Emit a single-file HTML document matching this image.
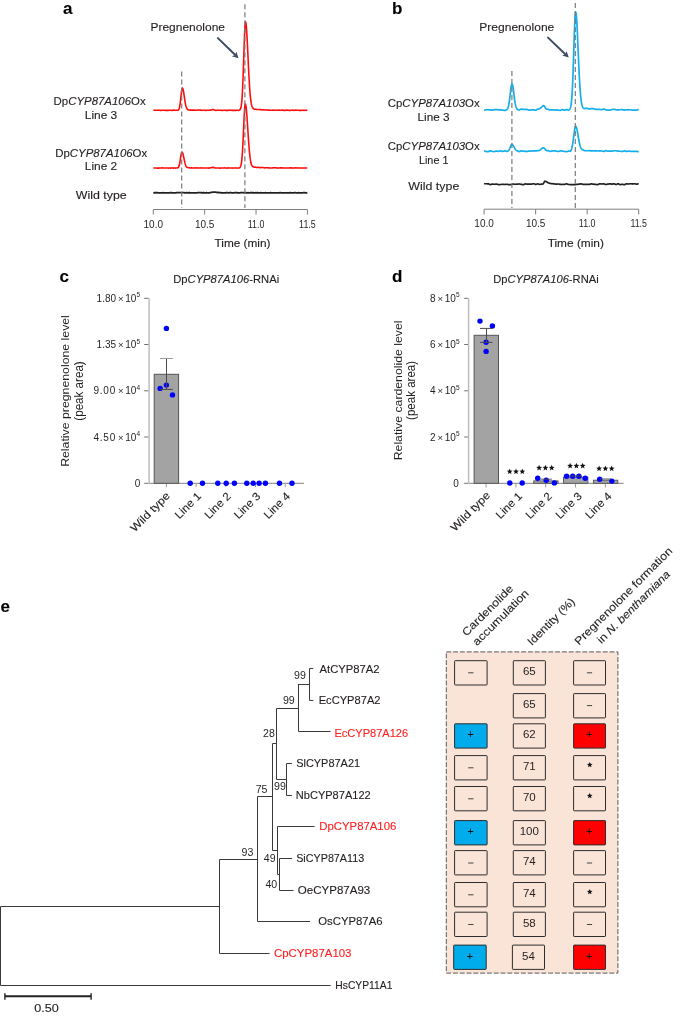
<!DOCTYPE html>
<html><head><meta charset="utf-8"><style>
html,body{margin:0;padding:0;background:#fff;}
svg{display:block;will-change:transform;}
text{font-family:"Liberation Sans", sans-serif;stroke:#231f20;stroke-width:0.12px;}
text.thin{stroke-width:0;}
</style></head><body>
<svg width="685" height="1016" viewBox="0 0 685 1016" font-family='"Liberation Sans", sans-serif' fill="#231f20">
<rect width="685" height="1016" fill="#fff"/>
<text x="63" y="14.2" font-size="17" font-weight="bold" fill="#000" style="stroke:#000">a</text>
<text x="150.5" y="30.8" font-size="11" textLength="74.5" lengthAdjust="spacingAndGlyphs">Pregnenolone</text>
<line x1="217.9" y1="38.1" x2="234.78" y2="54.57" stroke="#3d4b63" stroke-width="2" stroke-linecap="round"/>
<path d="M238.50,58.20 L231.83,56.16 L235.14,54.92 L236.30,51.58 Z" fill="#3d4b63"/>
<path d="M153.30,110.31 L153.56,110.31 L153.81,110.30 L154.07,110.29 L154.33,110.28 L154.58,110.28 L154.84,110.26 L155.10,110.23 L155.35,110.20 L155.61,110.18 L155.87,110.18 L156.12,110.20 L156.38,110.24 L156.64,110.28 L156.89,110.31 L157.15,110.31 L157.41,110.31 L157.66,110.30 L157.92,110.30 L158.18,110.30 L158.43,110.30 L158.69,110.29 L158.95,110.28 L159.21,110.28 L159.46,110.27 L159.72,110.29 L159.98,110.32 L160.23,110.36 L160.49,110.39 L160.75,110.39 L161.00,110.38 L161.26,110.35 L161.52,110.32 L161.77,110.30 L162.03,110.30 L162.29,110.29 L162.54,110.28 L162.80,110.27 L163.06,110.26 L163.31,110.26 L163.57,110.25 L163.83,110.23 L164.08,110.22 L164.34,110.21 L164.60,110.23 L164.85,110.28 L165.11,110.34 L165.37,110.40 L165.62,110.42 L165.88,110.41 L166.14,110.40 L166.39,110.38 L166.65,110.36 L166.91,110.36 L167.16,110.37 L167.42,110.39 L167.68,110.41 L167.93,110.42 L168.19,110.42 L168.45,110.38 L168.70,110.31 L168.96,110.25 L169.22,110.21 L169.48,110.21 L169.73,110.22 L169.99,110.23 L170.25,110.24 L170.50,110.24 L170.76,110.26 L171.02,110.30 L171.27,110.36 L171.53,110.42 L171.79,110.44 L172.04,110.41 L172.30,110.33 L172.56,110.24 L172.81,110.18 L173.07,110.16 L173.33,110.16 L173.58,110.16 L173.84,110.16 L174.10,110.16 L174.35,110.16 L174.61,110.18 L174.87,110.21 L175.12,110.23 L175.38,110.25 L175.64,110.25 L175.89,110.26 L176.15,110.26 L176.41,110.26 L176.66,110.26 L176.92,110.26 L177.18,110.28 L177.43,110.29 L177.69,110.27 L177.95,110.20 L178.20,110.07 L178.46,109.86 L178.72,109.53 L178.97,109.05 L179.23,108.36 L179.49,107.39 L179.75,106.11 L180.00,104.52 L180.26,102.63 L180.52,100.49 L180.77,98.18 L181.03,95.81 L181.29,93.49 L181.54,91.40 L181.80,89.69 L182.06,88.53 L182.31,88.02 L182.57,88.12 L182.83,88.61 L183.08,89.45 L183.34,90.60 L183.60,92.01 L183.85,93.60 L184.11,95.32 L184.37,97.10 L184.62,98.87 L184.88,100.58 L185.14,102.18 L185.39,103.62 L185.65,104.88 L185.91,105.95 L186.16,106.84 L186.42,107.59 L186.68,108.21 L186.93,108.70 L187.19,109.09 L187.45,109.38 L187.70,109.60 L187.96,109.76 L188.22,109.84 L188.47,109.89 L188.73,109.91 L188.99,109.93 L189.24,109.96 L189.50,110.00 L189.76,110.04 L190.02,110.08 L190.27,110.10 L190.53,110.10 L190.79,110.09 L191.04,110.08 L191.30,110.08 L191.56,110.08 L191.81,110.09 L192.07,110.11 L192.33,110.12 L192.58,110.13 L192.84,110.14 L193.10,110.13 L193.35,110.12 L193.61,110.11 L193.87,110.11 L194.12,110.11 L194.38,110.13 L194.64,110.15 L194.89,110.17 L195.15,110.18 L195.41,110.19 L195.66,110.21 L195.92,110.23 L196.18,110.24 L196.43,110.25 L196.69,110.23 L196.95,110.18 L197.20,110.11 L197.46,110.06 L197.72,110.05 L197.97,110.05 L198.23,110.06 L198.49,110.06 L198.74,110.06 L199.00,110.06 L199.26,110.07 L199.51,110.09 L199.77,110.11 L200.03,110.12 L200.29,110.12 L200.54,110.13 L200.80,110.15 L201.06,110.16 L201.31,110.17 L201.57,110.18 L201.83,110.21 L202.08,110.25 L202.34,110.28 L202.60,110.29 L202.85,110.30 L203.11,110.31 L203.37,110.32 L203.62,110.32 L203.88,110.33 L204.14,110.32 L204.39,110.32 L204.65,110.32 L204.91,110.31 L205.16,110.32 L205.42,110.33 L205.68,110.35 L205.93,110.37 L206.19,110.38 L206.45,110.38 L206.70,110.33 L206.96,110.27 L207.22,110.21 L207.47,110.18 L207.73,110.19 L207.99,110.22 L208.24,110.25 L208.50,110.28 L208.76,110.29 L209.01,110.28 L209.27,110.24 L209.53,110.19 L209.78,110.15 L210.04,110.12 L210.30,110.12 L210.56,110.12 L210.81,110.12 L211.07,110.09 L211.33,110.03 L211.58,109.92 L211.84,109.80 L212.10,109.68 L212.35,109.59 L212.61,109.55 L212.87,109.55 L213.12,109.57 L213.38,109.62 L213.64,109.68 L213.89,109.77 L214.15,109.91 L214.41,110.06 L214.66,110.19 L214.92,110.28 L215.18,110.32 L215.43,110.34 L215.69,110.35 L215.95,110.35 L216.20,110.35 L216.46,110.33 L216.72,110.27 L216.97,110.21 L217.23,110.17 L217.49,110.16 L217.74,110.19 L218.00,110.23 L218.26,110.27 L218.51,110.29 L218.77,110.29 L219.03,110.26 L219.28,110.21 L219.54,110.17 L219.80,110.14 L220.05,110.16 L220.31,110.20 L220.57,110.25 L220.83,110.30 L221.08,110.32 L221.34,110.33 L221.60,110.36 L221.85,110.39 L222.11,110.41 L222.37,110.42 L222.62,110.39 L222.88,110.35 L223.14,110.30 L223.39,110.26 L223.65,110.25 L223.91,110.24 L224.16,110.23 L224.42,110.22 L224.68,110.21 L224.93,110.22 L225.19,110.25 L225.45,110.30 L225.70,110.34 L225.96,110.36 L226.22,110.37 L226.47,110.38 L226.73,110.40 L226.99,110.41 L227.24,110.42 L227.50,110.41 L227.76,110.39 L228.01,110.37 L228.27,110.35 L228.53,110.34 L228.78,110.32 L229.04,110.26 L229.30,110.21 L229.55,110.16 L229.81,110.16 L230.07,110.17 L230.32,110.19 L230.58,110.21 L230.84,110.22 L231.10,110.23 L231.35,110.27 L231.61,110.33 L231.87,110.38 L232.12,110.41 L232.38,110.41 L232.64,110.40 L232.89,110.39 L233.15,110.38 L233.41,110.37 L233.66,110.38 L233.92,110.39 L234.18,110.40 L234.43,110.41 L234.69,110.42 L234.95,110.42 L235.20,110.42 L235.46,110.43 L235.72,110.43 L235.97,110.43 L236.23,110.38 L236.49,110.32 L236.74,110.25 L237.00,110.21 L237.26,110.22 L237.51,110.25 L237.77,110.31 L238.03,110.36 L238.28,110.38 L238.54,110.36 L238.80,110.31 L239.05,110.23 L239.31,110.14 L239.57,110.02 L239.82,109.86 L240.08,109.61 L240.34,109.23 L240.59,108.67 L240.85,107.85 L241.11,106.72 L241.37,105.17 L241.62,103.10 L241.88,100.40 L242.14,96.95 L242.39,92.68 L242.65,87.54 L242.91,81.56 L243.16,74.83 L243.42,67.51 L243.68,59.81 L243.93,51.99 L244.19,44.39 L244.45,37.36 L244.70,31.26 L244.96,26.47 L245.22,23.28 L245.47,21.91 L245.73,22.16 L245.99,23.40 L246.24,25.56 L246.50,28.56 L246.76,32.28 L247.01,36.61 L247.27,41.42 L247.53,46.58 L247.78,51.97 L248.04,57.46 L248.30,62.96 L248.55,68.33 L248.81,73.48 L249.07,78.32 L249.32,82.80 L249.58,86.87 L249.84,90.51 L250.09,93.73 L250.35,96.54 L250.61,98.95 L250.86,100.98 L251.12,102.64 L251.38,103.99 L251.64,105.09 L251.89,106.00 L252.15,106.74 L252.41,107.33 L252.66,107.80 L252.92,108.16 L253.18,108.43 L253.43,108.66 L253.69,108.85 L253.95,109.01 L254.20,109.13 L254.46,109.20 L254.72,109.22 L254.97,109.21 L255.23,109.19 L255.49,109.19 L255.74,109.22 L256.00,109.29 L256.26,109.37 L256.51,109.45 L256.77,109.50 L257.03,109.52 L257.28,109.52 L257.54,109.53 L257.80,109.53 L258.05,109.55 L258.31,109.55 L258.57,109.53 L258.82,109.51 L259.08,109.50 L259.34,109.50 L259.59,109.53 L259.85,109.57 L260.11,109.60 L260.36,109.64 L260.62,109.66 L260.88,109.70 L261.13,109.77 L261.39,109.83 L261.65,109.88 L261.91,109.88 L262.16,109.84 L262.42,109.77 L262.68,109.71 L262.93,109.68 L263.19,109.71 L263.45,109.78 L263.70,109.87 L263.96,109.94 L264.22,109.98 L264.47,109.99 L264.73,109.99 L264.99,110.00 L265.24,110.01 L265.50,110.02 L265.76,110.00 L266.01,109.97 L266.27,109.93 L266.53,109.91 L266.78,109.91 L267.04,109.94 L267.30,109.99 L267.55,110.04 L267.81,110.07 L268.07,110.08 L268.32,110.09 L268.58,110.10 L268.84,110.11 L269.09,110.12 L269.35,110.13 L269.61,110.15 L269.86,110.18 L270.12,110.20 L270.38,110.22 L270.63,110.22 L270.89,110.23 L271.15,110.23 L271.40,110.24 L271.66,110.24 L271.92,110.22 L272.18,110.19 L272.43,110.15 L272.69,110.12 L272.95,110.12 L273.20,110.14 L273.46,110.18 L273.72,110.21 L273.97,110.23 L274.23,110.23 L274.49,110.21 L274.74,110.19 L275.00,110.16 L275.26,110.15 L275.51,110.15 L275.77,110.17 L276.03,110.20 L276.28,110.22 L276.54,110.23 L276.80,110.23 L277.05,110.23 L277.31,110.22 L277.57,110.22 L277.82,110.22 L278.08,110.20 L278.34,110.16 L278.59,110.12 L278.85,110.08 L279.11,110.08 L279.36,110.11 L279.62,110.16 L279.88,110.20 L280.13,110.23 L280.39,110.23 L280.65,110.23 L280.90,110.22 L281.16,110.22 L281.42,110.21 L281.67,110.21 L281.93,110.19 L282.19,110.16 L282.45,110.14 L282.70,110.13 L282.96,110.16 L283.22,110.21 L283.47,110.28 L283.73,110.33 L283.99,110.35 L284.24,110.35 L284.50,110.35 L284.76,110.36 L285.01,110.36 L285.27,110.36 L285.53,110.32 L285.78,110.25 L286.04,110.19 L286.30,110.14 L286.55,110.14 L286.81,110.15 L287.07,110.16 L287.32,110.17 L287.58,110.17 L287.84,110.19 L288.09,110.23 L288.35,110.28 L288.61,110.33 L288.86,110.35 L289.12,110.35 L289.38,110.35 L289.63,110.36 L289.89,110.37 L290.15,110.37 L290.40,110.34 L290.66,110.30 L290.92,110.25 L291.17,110.21 L291.43,110.21 L291.69,110.19 L291.94,110.18 L292.20,110.16 L292.46,110.15 L292.72,110.16 L292.97,110.21 L293.23,110.28 L293.49,110.34 L293.74,110.37 L294.00,110.36 L294.26,110.30 L294.51,110.23 L294.77,110.18 L295.03,110.15 L295.28,110.15 L295.54,110.16 L295.80,110.17 L296.05,110.17 L296.31,110.17 L296.57,110.19 L296.82,110.21 L297.08,110.24 L297.34,110.25 L297.59,110.26 L297.85,110.27 L298.11,110.29 L298.36,110.30 L298.62,110.31 L298.88,110.32 L299.13,110.34 L299.39,110.37 L299.65,110.40 L299.90,110.41 L300.16,110.41 L300.42,110.42 L300.67,110.42 L300.93,110.43 L301.19,110.43 L301.44,110.40 L301.70,110.33 L301.96,110.24 L302.21,110.18 L302.47,110.16 L302.73,110.19 L302.99,110.25 L303.24,110.32 L303.50,110.36 L303.76,110.37 L304.01,110.34 L304.27,110.30 L304.53,110.26 L304.78,110.24 L305.04,110.24 L305.30,110.27 L305.55,110.31 L305.81,110.35 L306.07,110.37 L306.32,110.36 L306.58,110.31 L306.84,110.26 L307.09,110.22 L307.35,110.20" fill="none" stroke="#ff0d0d" stroke-width="1.6" stroke-linejoin="round"/>
<path d="M153.30,168.01 L153.56,168.00 L153.81,167.99 L154.07,167.97 L154.33,167.96 L154.58,167.95 L154.84,167.95 L155.10,167.95 L155.35,167.95 L155.61,167.95 L155.87,167.95 L156.12,167.98 L156.38,168.03 L156.64,168.07 L156.89,168.10 L157.15,168.11 L157.41,168.12 L157.66,168.13 L157.92,168.14 L158.18,168.15 L158.43,168.14 L158.69,168.11 L158.95,168.08 L159.21,168.05 L159.46,168.04 L159.72,168.04 L159.98,168.05 L160.23,168.06 L160.49,168.07 L160.75,168.07 L161.00,168.04 L161.26,168.00 L161.52,167.95 L161.77,167.91 L162.03,167.91 L162.29,167.91 L162.54,167.92 L162.80,167.94 L163.06,167.94 L163.31,167.94 L163.57,167.95 L163.83,167.96 L164.08,167.97 L164.34,167.97 L164.60,167.97 L164.85,167.97 L165.11,167.98 L165.37,167.98 L165.62,167.98 L165.88,167.98 L166.14,167.97 L166.39,167.96 L166.65,167.95 L166.91,167.95 L167.16,167.98 L167.42,168.02 L167.68,168.07 L167.93,168.10 L168.19,168.10 L168.45,168.09 L168.70,168.06 L168.96,168.04 L169.22,168.02 L169.48,168.02 L169.73,168.04 L169.99,168.06 L170.25,168.09 L170.50,168.10 L170.76,168.08 L171.02,168.03 L171.27,167.96 L171.53,167.90 L171.79,167.88 L172.04,167.91 L172.30,167.97 L172.56,168.05 L172.81,168.11 L173.07,168.13 L173.33,168.10 L173.58,168.03 L173.84,167.96 L174.10,167.91 L174.35,167.91 L174.61,167.95 L174.87,168.02 L175.12,168.08 L175.38,168.12 L175.64,168.12 L175.89,168.08 L176.15,168.02 L176.41,167.96 L176.66,167.93 L176.92,167.92 L177.18,167.91 L177.43,167.89 L177.69,167.84 L177.95,167.72 L178.20,167.51 L178.46,167.20 L178.72,166.75 L178.97,166.15 L179.23,165.34 L179.49,164.30 L179.75,163.02 L180.00,161.52 L180.26,159.86 L180.52,158.14 L180.77,156.46 L181.03,154.93 L181.29,153.64 L181.54,152.68 L181.80,152.14 L182.06,152.06 L182.31,152.31 L182.57,152.81 L182.83,153.56 L183.08,154.48 L183.34,155.52 L183.60,156.65 L183.85,157.84 L184.11,159.09 L184.37,160.34 L184.62,161.54 L184.88,162.66 L185.14,163.65 L185.39,164.51 L185.65,165.24 L185.91,165.88 L186.16,166.41 L186.42,166.83 L186.68,167.13 L186.93,167.32 L187.19,167.42 L187.45,167.47 L187.70,167.51 L187.96,167.57 L188.22,167.62 L188.47,167.66 L188.73,167.68 L188.99,167.70 L189.24,167.73 L189.50,167.80 L189.76,167.88 L190.02,167.95 L190.27,167.98 L190.53,167.97 L190.79,167.95 L191.04,167.92 L191.30,167.90 L191.56,167.90 L191.81,167.92 L192.07,167.94 L192.33,167.97 L192.58,167.99 L192.84,168.00 L193.10,167.99 L193.35,167.98 L193.61,167.96 L193.87,167.96 L194.12,167.95 L194.38,167.94 L194.64,167.91 L194.89,167.89 L195.15,167.88 L195.41,167.89 L195.66,167.92 L195.92,167.97 L196.18,168.00 L196.43,168.02 L196.69,168.01 L196.95,167.97 L197.20,167.92 L197.46,167.88 L197.72,167.87 L197.97,167.90 L198.23,167.96 L198.49,168.02 L198.74,168.06 L199.00,168.07 L199.26,168.07 L199.51,168.06 L199.77,168.05 L200.03,168.04 L200.29,168.04 L200.54,168.00 L200.80,167.94 L201.06,167.89 L201.31,167.86 L201.57,167.87 L201.83,167.90 L202.08,167.94 L202.34,167.97 L202.60,167.99 L202.85,167.99 L203.11,167.99 L203.37,167.99 L203.62,167.99 L203.88,167.99 L204.14,167.98 L204.39,167.96 L204.65,167.95 L204.91,167.94 L205.16,167.94 L205.42,167.95 L205.68,167.96 L205.93,167.97 L206.19,167.98 L206.45,167.98 L206.70,167.99 L206.96,167.99 L207.22,168.00 L207.47,168.01 L207.73,168.02 L207.99,168.04 L208.24,168.08 L208.50,168.10 L208.76,168.12 L209.01,168.09 L209.27,168.03 L209.53,167.96 L209.78,167.90 L210.04,167.87 L210.30,167.84 L210.56,167.79 L210.81,167.73 L211.07,167.67 L211.33,167.61 L211.58,167.55 L211.84,167.49 L212.10,167.43 L212.35,167.38 L212.61,167.36 L212.87,167.37 L213.12,167.41 L213.38,167.46 L213.64,167.52 L213.89,167.59 L214.15,167.68 L214.41,167.77 L214.66,167.85 L214.92,167.91 L215.18,167.94 L215.43,167.97 L215.69,167.99 L215.95,168.01 L216.20,168.02 L216.46,168.01 L216.72,167.98 L216.97,167.96 L217.23,167.94 L217.49,167.93 L217.74,167.93 L218.00,167.94 L218.26,167.94 L218.51,167.94 L218.77,167.95 L219.03,167.98 L219.28,168.03 L219.54,168.08 L219.80,168.11 L220.05,168.11 L220.31,168.10 L220.57,168.09 L220.83,168.08 L221.08,168.07 L221.34,168.07 L221.60,168.06 L221.85,168.05 L222.11,168.04 L222.37,168.03 L222.62,168.03 L222.88,168.02 L223.14,168.00 L223.39,167.99 L223.65,167.99 L223.91,167.97 L224.16,167.95 L224.42,167.92 L224.68,167.90 L224.93,167.91 L225.19,167.93 L225.45,167.95 L225.70,167.98 L225.96,168.00 L226.22,168.01 L226.47,168.04 L226.73,168.08 L226.99,168.12 L227.24,168.14 L227.50,168.11 L227.76,168.05 L228.01,167.98 L228.27,167.92 L228.53,167.90 L228.78,167.92 L229.04,167.95 L229.30,167.99 L229.55,168.01 L229.81,168.02 L230.07,168.01 L230.32,168.00 L230.58,168.00 L230.84,167.99 L231.10,168.00 L231.35,168.01 L231.61,168.04 L231.87,168.07 L232.12,168.08 L232.38,168.08 L232.64,168.06 L232.89,168.04 L233.15,168.03 L233.41,168.02 L233.66,168.02 L233.92,168.02 L234.18,168.03 L234.43,168.03 L234.69,168.03 L234.95,168.01 L235.20,167.98 L235.46,167.95 L235.72,167.92 L235.97,167.92 L236.23,167.96 L236.49,168.02 L236.74,168.08 L237.00,168.11 L237.26,168.11 L237.51,168.08 L237.77,168.04 L238.03,167.99 L238.28,167.97 L238.54,167.96 L238.80,167.96 L239.05,167.95 L239.31,167.91 L239.57,167.81 L239.82,167.63 L240.08,167.33 L240.34,166.90 L240.59,166.31 L240.85,165.52 L241.11,164.48 L241.37,163.10 L241.62,161.29 L241.88,158.95 L242.14,156.00 L242.39,152.42 L242.65,148.23 L242.91,143.46 L243.16,138.23 L243.42,132.66 L243.68,126.96 L243.93,121.36 L244.19,116.14 L244.45,111.57 L244.70,107.90 L244.96,105.36 L245.22,104.10 L245.47,104.09 L245.73,104.83 L245.99,106.26 L246.24,108.32 L246.50,110.95 L246.76,114.03 L247.01,117.47 L247.27,121.16 L247.53,125.02 L247.78,128.97 L248.04,132.93 L248.30,136.83 L248.55,140.60 L248.81,144.16 L249.07,147.48 L249.32,150.49 L249.58,153.20 L249.84,155.59 L250.09,157.68 L250.35,159.47 L250.61,161.00 L250.86,162.29 L251.12,163.34 L251.38,164.19 L251.64,164.88 L251.89,165.43 L252.15,165.86 L252.41,166.16 L252.66,166.38 L252.92,166.55 L253.18,166.70 L253.43,166.83 L253.69,166.96 L253.95,167.07 L254.20,167.15 L254.46,167.20 L254.72,167.20 L254.97,167.18 L255.23,167.16 L255.49,167.16 L255.74,167.18 L256.00,167.25 L256.26,167.34 L256.51,167.42 L256.77,167.47 L257.03,167.47 L257.28,167.43 L257.54,167.37 L257.80,167.33 L258.05,167.32 L258.31,167.35 L258.57,167.41 L258.82,167.47 L259.08,167.53 L259.34,167.55 L259.59,167.57 L259.85,167.60 L260.11,167.63 L260.36,167.65 L260.62,167.66 L260.88,167.64 L261.13,167.61 L261.39,167.57 L261.65,167.55 L261.91,167.55 L262.16,167.55 L262.42,167.55 L262.68,167.54 L262.93,167.54 L263.19,167.57 L263.45,167.65 L263.70,167.74 L263.96,167.82 L264.22,167.86 L264.47,167.86 L264.73,167.84 L264.99,167.83 L265.24,167.82 L265.50,167.82 L265.76,167.80 L266.01,167.76 L266.27,167.73 L266.53,167.70 L266.78,167.70 L267.04,167.73 L267.30,167.78 L267.55,167.82 L267.81,167.85 L268.07,167.86 L268.32,167.87 L268.58,167.88 L268.84,167.90 L269.09,167.91 L269.35,167.92 L269.61,167.94 L269.86,167.96 L270.12,167.99 L270.38,168.00 L270.63,168.00 L270.89,168.00 L271.15,168.00 L271.40,168.01 L271.66,168.01 L271.92,167.98 L272.18,167.94 L272.43,167.89 L272.69,167.86 L272.95,167.85 L273.20,167.83 L273.46,167.80 L273.72,167.77 L273.97,167.76 L274.23,167.76 L274.49,167.76 L274.74,167.76 L275.00,167.76 L275.26,167.76 L275.51,167.78 L275.77,167.81 L276.03,167.86 L276.28,167.90 L276.54,167.92 L276.80,167.94 L277.05,167.98 L277.31,168.03 L277.57,168.06 L277.82,168.08 L278.08,168.06 L278.34,168.04 L278.59,168.02 L278.85,168.00 L279.11,167.99 L279.36,167.97 L279.62,167.93 L279.88,167.89 L280.13,167.86 L280.39,167.86 L280.65,167.86 L280.90,167.86 L281.16,167.86 L281.42,167.86 L281.67,167.86 L281.93,167.88 L282.19,167.89 L282.45,167.91 L282.70,167.92 L282.96,167.93 L283.22,167.97 L283.47,168.01 L283.73,168.04 L283.99,168.05 L284.24,168.03 L284.50,168.01 L284.76,167.98 L285.01,167.97 L285.27,167.96 L285.53,167.97 L285.78,167.97 L286.04,167.98 L286.30,167.98 L286.55,167.98 L286.81,167.97 L287.07,167.96 L287.32,167.95 L287.58,167.94 L287.84,167.95 L288.09,167.97 L288.35,168.01 L288.61,168.04 L288.86,168.05 L289.12,168.03 L289.38,167.97 L289.63,167.91 L289.89,167.86 L290.15,167.85 L290.40,167.85 L290.66,167.86 L290.92,167.86 L291.17,167.87 L291.43,167.87 L291.69,167.91 L291.94,167.98 L292.20,168.04 L292.46,168.08 L292.72,168.09 L292.97,168.08 L293.23,168.07 L293.49,168.06 L293.74,168.05 L294.00,168.04 L294.26,168.00 L294.51,167.94 L294.77,167.90 L295.03,167.88 L295.28,167.90 L295.54,167.95 L295.80,168.00 L296.05,168.04 L296.31,168.06 L296.57,168.03 L296.82,167.97 L297.08,167.91 L297.34,167.87 L297.59,167.86 L297.85,167.89 L298.11,167.92 L298.36,167.96 L298.62,167.99 L298.88,167.99 L299.13,167.97 L299.39,167.96 L299.65,167.94 L299.90,167.94 L300.16,167.94 L300.42,167.93 L300.67,167.93 L300.93,167.93 L301.19,167.93 L301.44,167.95 L301.70,167.99 L301.96,168.03 L302.21,168.07 L302.47,168.08 L302.73,168.08 L302.99,168.07 L303.24,168.07 L303.50,168.06 L303.76,168.06 L304.01,168.06 L304.27,168.07 L304.53,168.07 L304.78,168.07 L305.04,168.06 L305.30,168.04 L305.55,168.00 L305.81,167.96 L306.07,167.94 L306.32,167.94 L306.58,167.94 L306.84,167.94 L307.09,167.94 L307.35,167.94" fill="none" stroke="#ff0d0d" stroke-width="1.6" stroke-linejoin="round"/>
<path d="M153.30,192.87 L153.56,192.86 L153.81,192.82 L154.07,192.78 L154.33,192.75 L154.58,192.74 L154.84,192.74 L155.10,192.74 L155.35,192.74 L155.61,192.74 L155.87,192.74 L156.12,192.73 L156.38,192.72 L156.64,192.71 L156.89,192.70 L157.15,192.70 L157.41,192.75 L157.66,192.81 L157.92,192.86 L158.18,192.89 L158.43,192.89 L158.69,192.89 L158.95,192.89 L159.21,192.88 L159.46,192.88 L159.72,192.88 L159.98,192.89 L160.23,192.90 L160.49,192.90 L160.75,192.91 L161.00,192.90 L161.26,192.90 L161.52,192.89 L161.77,192.88 L162.03,192.88 L162.29,192.85 L162.54,192.81 L162.80,192.76 L163.06,192.73 L163.31,192.74 L163.57,192.78 L163.83,192.83 L164.08,192.88 L164.34,192.91 L164.60,192.90 L164.85,192.87 L165.11,192.84 L165.37,192.80 L165.62,192.79 L165.88,192.80 L166.14,192.83 L166.39,192.86 L166.65,192.88 L166.91,192.89 L167.16,192.88 L167.42,192.88 L167.68,192.87 L167.93,192.86 L168.19,192.86 L168.45,192.85 L168.70,192.84 L168.96,192.83 L169.22,192.82 L169.48,192.82 L169.73,192.79 L169.99,192.75 L170.25,192.72 L170.50,192.70 L170.76,192.70 L171.02,192.72 L171.27,192.74 L171.53,192.76 L171.79,192.77 L172.04,192.79 L172.30,192.83 L172.56,192.89 L172.81,192.93 L173.07,192.95 L173.33,192.93 L173.58,192.91 L173.84,192.89 L174.10,192.87 L174.35,192.87 L174.61,192.88 L174.87,192.89 L175.12,192.90 L175.38,192.91 L175.64,192.90 L175.89,192.85 L176.15,192.78 L176.41,192.72 L176.66,192.69 L176.92,192.69 L177.18,192.69 L177.43,192.70 L177.69,192.71 L177.95,192.71 L178.20,192.71 L178.46,192.71 L178.72,192.71 L178.97,192.71 L179.23,192.71 L179.49,192.71 L179.75,192.71 L180.00,192.70 L180.26,192.70 L180.52,192.70 L180.77,192.71 L181.03,192.71 L181.29,192.72 L181.54,192.73 L181.80,192.72 L182.06,192.71 L182.31,192.69 L182.57,192.67 L182.83,192.67 L183.08,192.67 L183.34,192.68 L183.60,192.69 L183.85,192.71 L184.11,192.71 L184.37,192.73 L184.62,192.77 L184.88,192.82 L185.14,192.86 L185.39,192.87 L185.65,192.85 L185.91,192.80 L186.16,192.74 L186.42,192.70 L186.68,192.70 L186.93,192.72 L187.19,192.75 L187.45,192.78 L187.70,192.80 L187.96,192.80 L188.22,192.78 L188.47,192.76 L188.73,192.74 L188.99,192.72 L189.24,192.73 L189.50,192.74 L189.76,192.76 L190.02,192.77 L190.27,192.78 L190.53,192.79 L190.79,192.80 L191.04,192.81 L191.30,192.82 L191.56,192.82 L191.81,192.82 L192.07,192.83 L192.33,192.84 L192.58,192.84 L192.84,192.84 L193.10,192.84 L193.35,192.83 L193.61,192.83 L193.87,192.82 L194.12,192.82 L194.38,192.83 L194.64,192.84 L194.89,192.85 L195.15,192.86 L195.41,192.86 L195.66,192.87 L195.92,192.89 L196.18,192.91 L196.43,192.91 L196.69,192.89 L196.95,192.84 L197.20,192.77 L197.46,192.72 L197.72,192.70 L197.97,192.71 L198.23,192.71 L198.49,192.71 L198.74,192.71 L199.00,192.71 L199.26,192.70 L199.51,192.68 L199.77,192.67 L200.03,192.66 L200.29,192.66 L200.54,192.68 L200.80,192.70 L201.06,192.73 L201.31,192.74 L201.57,192.75 L201.83,192.76 L202.08,192.77 L202.34,192.78 L202.60,192.78 L202.85,192.78 L203.11,192.76 L203.37,192.74 L203.62,192.73 L203.88,192.73 L204.14,192.75 L204.39,192.81 L204.65,192.86 L204.91,192.90 L205.16,192.91 L205.42,192.88 L205.68,192.83 L205.93,192.78 L206.19,192.75 L206.45,192.75 L206.70,192.76 L206.96,192.78 L207.22,192.80 L207.47,192.81 L207.73,192.81 L207.99,192.82 L208.24,192.84 L208.50,192.85 L208.76,192.84 L209.01,192.82 L209.27,192.80 L209.53,192.77 L209.78,192.74 L210.04,192.70 L210.30,192.65 L210.56,192.58 L210.81,192.50 L211.07,192.43 L211.33,192.37 L211.58,192.33 L211.84,192.31 L212.10,192.28 L212.35,192.25 L212.61,192.22 L212.87,192.18 L213.12,192.14 L213.38,192.12 L213.64,192.11 L213.89,192.11 L214.15,192.11 L214.41,192.11 L214.66,192.11 L214.92,192.12 L215.18,192.14 L215.43,192.17 L215.69,192.21 L215.95,192.25 L216.20,192.28 L216.46,192.32 L216.72,192.36 L216.97,192.41 L217.23,192.46 L217.49,192.48 L217.74,192.49 L218.00,192.48 L218.26,192.48 L218.51,192.48 L218.77,192.51 L219.03,192.55 L219.28,192.60 L219.54,192.64 L219.80,192.67 L220.05,192.69 L220.31,192.71 L220.57,192.73 L220.83,192.74 L221.08,192.76 L221.34,192.77 L221.60,192.79 L221.85,192.80 L222.11,192.82 L222.37,192.83 L222.62,192.83 L222.88,192.82 L223.14,192.81 L223.39,192.81 L223.65,192.81 L223.91,192.83 L224.16,192.86 L224.42,192.89 L224.68,192.91 L224.93,192.91 L225.19,192.87 L225.45,192.82 L225.70,192.77 L225.96,192.75 L226.22,192.74 L226.47,192.72 L226.73,192.69 L226.99,192.67 L227.24,192.66 L227.50,192.68 L227.76,192.73 L228.01,192.78 L228.27,192.82 L228.53,192.83 L228.78,192.82 L229.04,192.79 L229.30,192.76 L229.55,192.74 L229.81,192.73 L230.07,192.72 L230.32,192.70 L230.58,192.68 L230.84,192.67 L231.10,192.68 L231.35,192.74 L231.61,192.82 L231.87,192.90 L232.12,192.94 L232.38,192.93 L232.64,192.93 L232.89,192.92 L233.15,192.91 L233.41,192.91 L233.66,192.89 L233.92,192.83 L234.18,192.77 L234.43,192.72 L234.69,192.71 L234.95,192.71 L235.20,192.70 L235.46,192.70 L235.72,192.70 L235.97,192.70 L236.23,192.71 L236.49,192.73 L236.74,192.75 L237.00,192.76 L237.26,192.76 L237.51,192.80 L237.77,192.84 L238.03,192.88 L238.28,192.90 L238.54,192.90 L238.80,192.88 L239.05,192.85 L239.31,192.83 L239.57,192.83 L239.82,192.81 L240.08,192.77 L240.34,192.73 L240.59,192.70 L240.85,192.69 L241.11,192.69 L241.37,192.69 L241.62,192.69 L241.88,192.68 L242.14,192.68 L242.39,192.69 L242.65,192.70 L242.91,192.70 L243.16,192.71 L243.42,192.72 L243.68,192.76 L243.93,192.81 L244.19,192.86 L244.45,192.89 L244.70,192.87 L244.96,192.83 L245.22,192.77 L245.47,192.72 L245.73,192.69 L245.99,192.71 L246.24,192.75 L246.50,192.79 L246.76,192.83 L247.01,192.84 L247.27,192.82 L247.53,192.79 L247.78,192.76 L248.04,192.74 L248.30,192.74 L248.55,192.77 L248.81,192.82 L249.07,192.87 L249.32,192.91 L249.58,192.90 L249.84,192.84 L250.09,192.77 L250.35,192.70 L250.61,192.66 L250.86,192.67 L251.12,192.69 L251.38,192.73 L251.64,192.76 L251.89,192.77 L252.15,192.76 L252.41,192.76 L252.66,192.74 L252.92,192.74 L253.18,192.73 L253.43,192.76 L253.69,192.80 L253.95,192.85 L254.20,192.88 L254.46,192.88 L254.72,192.86 L254.97,192.83 L255.23,192.79 L255.49,192.77 L255.74,192.77 L256.00,192.77 L256.26,192.77 L256.51,192.77 L256.77,192.78 L257.03,192.78 L257.28,192.77 L257.54,192.77 L257.80,192.77 L258.05,192.77 L258.31,192.78 L258.57,192.80 L258.82,192.82 L259.08,192.84 L259.34,192.84 L259.59,192.82 L259.85,192.79 L260.11,192.76 L260.36,192.74 L260.62,192.73 L260.88,192.76 L261.13,192.79 L261.39,192.82 L261.65,192.85 L261.91,192.85 L262.16,192.85 L262.42,192.86 L262.68,192.86 L262.93,192.86 L263.19,192.86 L263.45,192.87 L263.70,192.89 L263.96,192.90 L264.22,192.90 L264.47,192.88 L264.73,192.84 L264.99,192.79 L265.24,192.76 L265.50,192.75 L265.76,192.77 L266.01,192.82 L266.27,192.87 L266.53,192.91 L266.78,192.92 L267.04,192.91 L267.30,192.90 L267.55,192.89 L267.81,192.88 L268.07,192.88 L268.32,192.89 L268.58,192.91 L268.84,192.92 L269.09,192.93 L269.35,192.92 L269.61,192.87 L269.86,192.82 L270.12,192.78 L270.38,192.76 L270.63,192.76 L270.89,192.77 L271.15,192.77 L271.40,192.78 L271.66,192.78 L271.92,192.78 L272.18,192.78 L272.43,192.79 L272.69,192.79 L272.95,192.79 L273.20,192.82 L273.46,192.86 L273.72,192.91 L273.97,192.94 L274.23,192.93 L274.49,192.91 L274.74,192.87 L275.00,192.84 L275.26,192.82 L275.51,192.82 L275.77,192.83 L276.03,192.84 L276.28,192.84 L276.54,192.85 L276.80,192.86 L277.05,192.88 L277.31,192.90 L277.57,192.92 L277.82,192.92 L278.08,192.93 L278.34,192.93 L278.59,192.94 L278.85,192.95 L279.11,192.94 L279.36,192.89 L279.62,192.80 L279.88,192.71 L280.13,192.66 L280.39,192.66 L280.65,192.72 L280.90,192.80 L281.16,192.87 L281.42,192.91 L281.67,192.91 L281.93,192.90 L282.19,192.88 L282.45,192.87 L282.70,192.86 L282.96,192.86 L283.22,192.86 L283.47,192.87 L283.73,192.87 L283.99,192.87 L284.24,192.85 L284.50,192.83 L284.76,192.80 L285.01,192.78 L285.27,192.77 L285.53,192.80 L285.78,192.85 L286.04,192.89 L286.30,192.92 L286.55,192.92 L286.81,192.90 L287.07,192.86 L287.32,192.83 L287.58,192.81 L287.84,192.81 L288.09,192.82 L288.35,192.83 L288.61,192.84 L288.86,192.84 L289.12,192.82 L289.38,192.79 L289.63,192.74 L289.89,192.71 L290.15,192.70 L290.40,192.74 L290.66,192.81 L290.92,192.88 L291.17,192.94 L291.43,192.95 L291.69,192.93 L291.94,192.90 L292.20,192.87 L292.46,192.85 L292.72,192.85 L292.97,192.84 L293.23,192.82 L293.49,192.81 L293.74,192.80 L294.00,192.79 L294.26,192.76 L294.51,192.71 L294.77,192.67 L295.03,192.66 L295.28,192.67 L295.54,192.71 L295.80,192.75 L296.05,192.78 L296.31,192.80 L296.57,192.80 L296.82,192.80 L297.08,192.80 L297.34,192.81 L297.59,192.81 L297.85,192.80 L298.11,192.78 L298.36,192.76 L298.62,192.75 L298.88,192.75 L299.13,192.78 L299.39,192.81 L299.65,192.84 L299.90,192.86 L300.16,192.87 L300.42,192.89 L300.67,192.91 L300.93,192.93 L301.19,192.94 L301.44,192.92 L301.70,192.89 L301.96,192.84 L302.21,192.81 L302.47,192.80 L302.73,192.78 L302.99,192.75 L303.24,192.71 L303.50,192.68 L303.76,192.68 L304.01,192.69 L304.27,192.70 L304.53,192.72 L304.78,192.73 L305.04,192.73 L305.30,192.77 L305.55,192.81 L305.81,192.85 L306.07,192.87 L306.32,192.86 L306.58,192.83 L306.84,192.79 L307.09,192.76 L307.35,192.74" fill="none" stroke="#222" stroke-width="1.8" stroke-linejoin="round"/>
<line x1="181.7" y1="71.6" x2="181.7" y2="208" stroke="#7a7a7a" stroke-width="1.2" stroke-dasharray="5,3"/>
<line x1="244.9" y1="4.2" x2="244.9" y2="208" stroke="#7a7a7a" stroke-width="1.2" stroke-dasharray="5,3"/>
<line x1="153.3" y1="209.5" x2="307.4" y2="209.5" stroke="#7d7d7d" stroke-width="1"/>
<line x1="153.3" y1="209.5" x2="153.3" y2="214.6" stroke="#7d7d7d" stroke-width="1"/>
<text x="153.3" y="227.6" font-size="10" text-anchor="middle" class="thin">10.0</text>
<line x1="204.67000000000002" y1="209.5" x2="204.67000000000002" y2="214.6" stroke="#7d7d7d" stroke-width="1"/>
<text x="204.67" y="227.6" font-size="10" text-anchor="middle" class="thin">10.5</text>
<line x1="256.04" y1="209.5" x2="256.04" y2="214.6" stroke="#7d7d7d" stroke-width="1"/>
<text x="256.04" y="227.6" font-size="10" text-anchor="middle" textLength="16.6" lengthAdjust="spacingAndGlyphs" class="thin">11.0</text>
<line x1="307.40999999999997" y1="209.5" x2="307.40999999999997" y2="214.6" stroke="#7d7d7d" stroke-width="1"/>
<text x="307.41" y="227.6" font-size="10" text-anchor="middle" textLength="16.6" lengthAdjust="spacingAndGlyphs" class="thin">11.5</text>
<text x="242.5" y="247" font-size="11" text-anchor="middle" textLength="56" lengthAdjust="spacingAndGlyphs">Time (min)</text>
<text x="99.6" y="105.1" font-size="11" text-anchor="middle" textLength="92" lengthAdjust="spacingAndGlyphs">Dp<tspan font-style="italic">CYP87A106</tspan>Ox</text>
<text x="101" y="118.7" font-size="11" text-anchor="middle" textLength="32.5" lengthAdjust="spacingAndGlyphs">Line 3</text>
<text x="101.2" y="156.5" font-size="11" text-anchor="middle" textLength="92" lengthAdjust="spacingAndGlyphs">Dp<tspan font-style="italic">CYP87A106</tspan>Ox</text>
<text x="101" y="170.1" font-size="11" text-anchor="middle" textLength="32.5" lengthAdjust="spacingAndGlyphs">Line 2</text>
<text x="101.2" y="198.9" font-size="11" text-anchor="middle" textLength="51" lengthAdjust="spacingAndGlyphs">Wild type</text>
<text x="392" y="14" font-size="17" font-weight="bold" fill="#000" style="stroke:#000">b</text>
<text x="479.3" y="30.7" font-size="11" textLength="75" lengthAdjust="spacingAndGlyphs">Pregnenolone</text>
<line x1="548.0" y1="37.6" x2="565.05" y2="54.00" stroke="#3d4b63" stroke-width="2" stroke-linecap="round"/>
<path d="M568.80,57.60 L562.11,55.61 L565.41,54.34 L566.55,51.00 Z" fill="#3d4b63"/>
<path d="M484.10,110.24 L484.36,110.21 L484.62,110.15 L484.87,110.07 L485.13,109.97 L485.39,109.88 L485.65,109.79 L485.90,109.73 L486.16,109.71 L486.42,109.71 L486.68,109.72 L486.94,109.73 L487.19,109.74 L487.45,109.75 L487.71,109.76 L487.97,109.76 L488.22,109.77 L488.48,109.77 L488.74,109.79 L489.00,109.81 L489.25,109.84 L489.51,109.87 L489.77,109.90 L490.03,109.91 L490.29,109.92 L490.54,109.93 L490.80,109.96 L491.06,110.00 L491.32,110.05 L491.57,110.10 L491.83,110.14 L492.09,110.17 L492.35,110.18 L492.61,110.16 L492.86,110.09 L493.12,110.00 L493.38,109.90 L493.64,109.79 L493.89,109.70 L494.15,109.63 L494.41,109.61 L494.67,109.61 L494.93,109.60 L495.18,109.60 L495.44,109.60 L495.70,109.60 L495.96,109.59 L496.21,109.59 L496.47,109.59 L496.73,109.60 L496.99,109.64 L497.25,109.69 L497.50,109.74 L497.76,109.79 L498.02,109.84 L498.28,109.87 L498.53,109.89 L498.79,109.89 L499.05,109.89 L499.31,109.89 L499.56,109.89 L499.82,109.89 L500.08,109.89 L500.34,109.89 L500.60,109.89 L500.85,109.91 L501.11,109.94 L501.37,109.98 L501.63,110.03 L501.88,110.08 L502.14,110.12 L502.40,110.15 L502.66,110.16 L502.92,110.17 L503.17,110.20 L503.43,110.24 L503.69,110.28 L503.95,110.32 L504.20,110.36 L504.46,110.38 L504.72,110.39 L504.98,110.37 L505.24,110.32 L505.49,110.25 L505.75,110.16 L506.01,110.06 L506.27,109.95 L506.52,109.82 L506.78,109.68 L507.04,109.50 L507.30,109.21 L507.56,108.82 L507.81,108.29 L508.07,107.60 L508.33,106.73 L508.59,105.64 L508.84,104.34 L509.10,102.81 L509.36,101.08 L509.62,99.15 L509.87,97.06 L510.13,94.86 L510.39,92.63 L510.65,90.47 L510.91,88.46 L511.16,86.71 L511.42,85.32 L511.68,84.38 L511.94,83.97 L512.19,84.06 L512.45,84.60 L512.71,85.57 L512.97,86.94 L513.23,88.64 L513.48,90.59 L513.74,92.69 L514.00,94.84 L514.26,96.97 L514.51,98.99 L514.77,100.85 L515.03,102.50 L515.29,103.94 L515.55,105.17 L515.80,106.21 L516.06,107.07 L516.32,107.76 L516.58,108.30 L516.83,108.72 L517.09,109.04 L517.35,109.28 L517.61,109.47 L517.87,109.62 L518.12,109.74 L518.38,109.84 L518.64,109.91 L518.90,109.96 L519.15,109.99 L519.41,109.96 L519.67,109.86 L519.93,109.71 L520.18,109.55 L520.44,109.38 L520.70,109.23 L520.96,109.13 L521.22,109.09 L521.47,109.11 L521.73,109.15 L521.99,109.19 L522.25,109.25 L522.50,109.30 L522.76,109.35 L523.02,109.39 L523.28,109.40 L523.54,109.40 L523.79,109.39 L524.05,109.38 L524.31,109.36 L524.57,109.34 L524.82,109.32 L525.08,109.31 L525.34,109.31 L525.60,109.33 L525.86,109.36 L526.11,109.41 L526.37,109.46 L526.63,109.51 L526.89,109.56 L527.14,109.59 L527.40,109.61 L527.66,109.64 L527.92,109.71 L528.18,109.81 L528.43,109.92 L528.69,110.03 L528.95,110.13 L529.21,110.19 L529.46,110.22 L529.72,110.21 L529.98,110.18 L530.24,110.14 L530.49,110.09 L530.75,110.04 L531.01,109.99 L531.27,109.96 L531.53,109.95 L531.78,109.95 L532.04,109.93 L532.30,109.91 L532.56,109.88 L532.81,109.85 L533.07,109.83 L533.33,109.81 L533.59,109.81 L533.85,109.82 L534.10,109.87 L534.36,109.93 L534.62,110.00 L534.88,110.07 L535.13,110.13 L535.39,110.17 L535.65,110.18 L535.91,110.13 L536.17,110.02 L536.42,109.87 L536.68,109.69 L536.94,109.51 L537.20,109.34 L537.45,109.19 L537.71,109.09 L537.97,109.05 L538.23,109.02 L538.49,109.01 L538.74,108.99 L539.00,108.96 L539.26,108.89 L539.52,108.77 L539.77,108.60 L540.03,108.39 L540.29,108.18 L540.55,107.98 L540.80,107.77 L541.06,107.55 L541.32,107.34 L541.58,107.13 L541.84,106.91 L542.09,106.68 L542.35,106.43 L542.61,106.19 L542.87,105.96 L543.12,105.78 L543.38,105.65 L543.64,105.61 L543.90,105.70 L544.16,105.91 L544.41,106.23 L544.67,106.63 L544.93,107.07 L545.19,107.53 L545.44,107.98 L545.70,108.38 L545.96,108.72 L546.22,108.97 L546.48,109.12 L546.73,109.21 L546.99,109.24 L547.25,109.24 L547.51,109.23 L547.76,109.24 L548.02,109.27 L548.28,109.35 L548.54,109.44 L548.80,109.54 L549.05,109.65 L549.31,109.75 L549.57,109.84 L549.83,109.90 L550.08,109.92 L550.34,109.92 L550.60,109.91 L550.86,109.90 L551.11,109.88 L551.37,109.86 L551.63,109.85 L551.89,109.84 L552.15,109.83 L552.40,109.84 L552.66,109.87 L552.92,109.90 L553.18,109.94 L553.43,109.98 L553.69,110.01 L553.95,110.03 L554.21,110.04 L554.47,110.04 L554.72,110.02 L554.98,110.00 L555.24,109.97 L555.50,109.95 L555.75,109.93 L556.01,109.91 L556.27,109.90 L556.53,109.92 L556.79,109.95 L557.04,110.00 L557.30,110.05 L557.56,110.11 L557.82,110.16 L558.07,110.19 L558.33,110.20 L558.59,110.21 L558.85,110.23 L559.11,110.25 L559.36,110.28 L559.62,110.31 L559.88,110.33 L560.14,110.35 L560.39,110.36 L560.65,110.32 L560.91,110.23 L561.17,110.09 L561.42,109.94 L561.68,109.79 L561.94,109.66 L562.20,109.56 L562.46,109.53 L562.71,109.56 L562.97,109.63 L563.23,109.73 L563.49,109.84 L563.74,109.96 L564.00,110.06 L564.26,110.13 L564.52,110.16 L564.78,110.14 L565.03,110.08 L565.29,109.99 L565.55,109.89 L565.81,109.79 L566.06,109.70 L566.32,109.64 L566.58,109.62 L566.84,109.64 L567.10,109.70 L567.35,109.79 L567.61,109.89 L567.87,109.99 L568.13,110.07 L568.38,110.12 L568.64,110.11 L568.90,110.03 L569.16,109.86 L569.42,109.60 L569.67,109.26 L569.93,108.83 L570.19,108.27 L570.45,107.55 L570.70,106.64 L570.96,105.43 L571.22,103.81 L571.48,101.68 L571.73,98.94 L571.99,95.51 L572.25,91.29 L572.51,86.25 L572.77,80.37 L573.02,73.69 L573.28,66.34 L573.54,58.47 L573.80,50.32 L574.05,42.17 L574.31,34.35 L574.57,27.22 L574.83,21.13 L575.09,16.40 L575.34,13.29 L575.60,11.98 L575.86,12.27 L576.12,13.62 L576.37,15.96 L576.63,19.22 L576.89,23.29 L577.15,28.07 L577.41,33.41 L577.66,39.17 L577.92,45.18 L578.18,51.31 L578.44,57.40 L578.69,63.34 L578.95,69.00 L579.21,74.32 L579.47,79.23 L579.73,83.69 L579.98,87.68 L580.24,91.21 L580.50,94.27 L580.76,96.91 L581.01,99.15 L581.27,101.06 L581.53,102.68 L581.79,104.04 L582.04,105.16 L582.30,106.08 L582.56,106.80 L582.82,107.36 L583.08,107.76 L583.33,108.03 L583.59,108.20 L583.85,108.30 L584.11,108.35 L584.36,108.38 L584.62,108.39 L584.88,108.40 L585.14,108.42 L585.40,108.44 L585.65,108.43 L585.91,108.40 L586.17,108.36 L586.43,108.31 L586.68,108.28 L586.94,108.26 L587.20,108.27 L587.46,108.32 L587.72,108.41 L587.97,108.53 L588.23,108.67 L588.49,108.80 L588.75,108.93 L589.00,109.02 L589.26,109.07 L589.52,109.06 L589.78,109.00 L590.04,108.91 L590.29,108.79 L590.55,108.68 L590.81,108.59 L591.07,108.53 L591.32,108.51 L591.58,108.54 L591.84,108.56 L592.10,108.58 L592.35,108.61 L592.61,108.63 L592.87,108.66 L593.13,108.68 L593.39,108.70 L593.64,108.73 L593.90,108.80 L594.16,108.90 L594.42,109.00 L594.67,109.10 L594.93,109.20 L595.19,109.26 L595.45,109.30 L595.71,109.32 L595.96,109.33 L596.22,109.36 L596.48,109.38 L596.74,109.40 L596.99,109.42 L597.25,109.44 L597.51,109.45 L597.77,109.46 L598.03,109.46 L598.28,109.46 L598.54,109.45 L598.80,109.45 L599.06,109.45 L599.31,109.45 L599.57,109.45 L599.83,109.47 L600.09,109.48 L600.35,109.50 L600.60,109.53 L600.86,109.55 L601.12,109.57 L601.38,109.58 L601.63,109.60 L601.89,109.58 L602.15,109.52 L602.41,109.43 L602.66,109.32 L602.92,109.22 L603.18,109.13 L603.44,109.07 L603.70,109.05 L603.95,109.08 L604.21,109.16 L604.47,109.26 L604.73,109.38 L604.98,109.50 L605.24,109.61 L605.50,109.68 L605.76,109.71 L606.02,109.73 L606.27,109.78 L606.53,109.85 L606.79,109.92 L607.05,109.99 L607.30,110.05 L607.56,110.10 L607.82,110.12 L608.08,110.12 L608.34,110.12 L608.59,110.11 L608.85,110.11 L609.11,110.10 L609.37,110.09 L609.62,110.09 L609.88,110.09 L610.14,110.07 L610.40,110.00 L610.66,109.91 L610.91,109.80 L611.17,109.69 L611.43,109.59 L611.69,109.52 L611.94,109.50 L612.20,109.49 L612.46,109.46 L612.72,109.42 L612.97,109.38 L613.23,109.33 L613.49,109.29 L613.75,109.26 L614.01,109.25 L614.26,109.28 L614.52,109.34 L614.78,109.42 L615.04,109.51 L615.29,109.61 L615.55,109.69 L615.81,109.75 L616.07,109.77 L616.33,109.78 L616.58,109.78 L616.84,109.78 L617.10,109.79 L617.36,109.79 L617.61,109.79 L617.87,109.80 L618.13,109.80 L618.39,109.80 L618.65,109.79 L618.90,109.79 L619.16,109.78 L619.42,109.77 L619.68,109.76 L619.93,109.76 L620.19,109.76 L620.45,109.75 L620.71,109.73 L620.97,109.70 L621.22,109.66 L621.48,109.63 L621.74,109.60 L622.00,109.58 L622.25,109.57 L622.51,109.60 L622.77,109.66 L623.03,109.74 L623.28,109.84 L623.54,109.94 L623.80,110.03 L624.06,110.09 L624.32,110.11 L624.57,110.10 L624.83,110.05 L625.09,109.99 L625.35,109.92 L625.60,109.85 L625.86,109.79 L626.12,109.75 L626.38,109.73 L626.64,109.74 L626.89,109.74 L627.15,109.75 L627.41,109.77 L627.67,109.78 L627.92,109.79 L628.18,109.79 L628.44,109.80 L628.70,109.79 L628.96,109.79 L629.21,109.78 L629.47,109.77 L629.73,109.76 L629.99,109.75 L630.24,109.74 L630.50,109.74 L630.76,109.76 L631.02,109.81 L631.28,109.88 L631.53,109.96 L631.79,110.04 L632.05,110.11 L632.31,110.17 L632.56,110.18 L632.82,110.19 L633.08,110.19 L633.34,110.19 L633.59,110.19 L633.85,110.20 L634.11,110.20 L634.37,110.20 L634.63,110.20 L634.88,110.19 L635.14,110.17 L635.40,110.15 L635.66,110.11 L635.91,110.08 L636.17,110.05 L636.43,110.03 L636.69,110.03 L636.95,110.00 L637.20,109.94 L637.46,109.85 L637.72,109.74 L637.98,109.63 L638.23,109.54 L638.49,109.48 L638.75,109.45" fill="none" stroke="#14aeec" stroke-width="1.7" stroke-linejoin="round"/>
<path d="M484.10,150.79 L484.36,150.82 L484.62,150.90 L484.87,151.02 L485.13,151.16 L485.39,151.29 L485.65,151.41 L485.90,151.49 L486.16,151.52 L486.42,151.53 L486.68,151.54 L486.94,151.56 L487.19,151.58 L487.45,151.60 L487.71,151.61 L487.97,151.62 L488.22,151.63 L488.48,151.59 L488.74,151.49 L489.00,151.35 L489.25,151.19 L489.51,151.03 L489.77,150.89 L490.03,150.79 L490.29,150.75 L490.54,150.78 L490.80,150.87 L491.06,150.98 L491.32,151.12 L491.57,151.25 L491.83,151.37 L492.09,151.45 L492.35,151.48 L492.61,151.49 L492.86,151.49 L493.12,151.50 L493.38,151.51 L493.64,151.52 L493.89,151.53 L494.15,151.54 L494.41,151.54 L494.67,151.52 L494.93,151.47 L495.18,151.39 L495.44,151.30 L495.70,151.21 L495.96,151.14 L496.21,151.08 L496.47,151.06 L496.73,151.08 L496.99,151.11 L497.25,151.15 L497.50,151.20 L497.76,151.25 L498.02,151.30 L498.28,151.33 L498.53,151.34 L498.79,151.32 L499.05,151.26 L499.31,151.18 L499.56,151.09 L499.82,151.00 L500.08,150.93 L500.34,150.87 L500.60,150.85 L500.85,150.87 L501.11,150.94 L501.37,151.04 L501.63,151.15 L501.88,151.25 L502.14,151.35 L502.40,151.42 L502.66,151.44 L502.92,151.41 L503.17,151.34 L503.43,151.23 L503.69,151.11 L503.95,150.99 L504.20,150.89 L504.46,150.81 L504.72,150.79 L504.98,150.81 L505.24,150.88 L505.49,150.97 L505.75,151.07 L506.01,151.18 L506.27,151.26 L506.52,151.32 L506.78,151.34 L507.04,151.31 L507.30,151.25 L507.56,151.16 L507.81,151.05 L508.07,150.90 L508.33,150.71 L508.59,150.49 L508.84,150.22 L509.10,149.87 L509.36,149.42 L509.62,148.87 L509.87,148.25 L510.13,147.56 L510.39,146.85 L510.65,146.16 L510.91,145.53 L511.16,145.00 L511.42,144.60 L511.68,144.37 L511.94,144.32 L512.19,144.41 L512.45,144.60 L512.71,144.87 L512.97,145.21 L513.23,145.60 L513.48,146.02 L513.74,146.46 L514.00,146.92 L514.26,147.38 L514.51,147.83 L514.77,148.26 L515.03,148.68 L515.29,149.06 L515.55,149.42 L515.80,149.74 L516.06,150.02 L516.32,150.26 L516.58,150.46 L516.83,150.61 L517.09,150.72 L517.35,150.83 L517.61,150.96 L517.87,151.09 L518.12,151.24 L518.38,151.37 L518.64,151.48 L518.90,151.56 L519.15,151.59 L519.41,151.56 L519.67,151.48 L519.93,151.37 L520.18,151.23 L520.44,151.09 L520.70,150.97 L520.96,150.89 L521.22,150.86 L521.47,150.87 L521.73,150.90 L521.99,150.94 L522.25,150.99 L522.50,151.04 L522.76,151.08 L523.02,151.11 L523.28,151.12 L523.54,151.13 L523.79,151.16 L524.05,151.20 L524.31,151.24 L524.57,151.29 L524.82,151.33 L525.08,151.36 L525.34,151.37 L525.60,151.38 L525.86,151.39 L526.11,151.40 L526.37,151.42 L526.63,151.44 L526.89,151.46 L527.14,151.47 L527.40,151.48 L527.66,151.45 L527.92,151.39 L528.18,151.29 L528.43,151.18 L528.69,151.07 L528.95,150.98 L529.21,150.91 L529.46,150.89 L529.72,150.90 L529.98,150.92 L530.24,150.96 L530.49,151.01 L530.75,151.05 L531.01,151.09 L531.27,151.12 L531.53,151.13 L531.78,151.11 L532.04,151.08 L532.30,151.02 L532.56,150.97 L532.81,150.91 L533.07,150.86 L533.33,150.82 L533.59,150.81 L533.85,150.81 L534.10,150.83 L534.36,150.85 L534.62,150.88 L534.88,150.90 L535.13,150.93 L535.39,150.94 L535.65,150.94 L535.91,150.93 L536.17,150.91 L536.42,150.87 L536.68,150.83 L536.94,150.78 L537.20,150.73 L537.45,150.69 L537.71,150.64 L537.97,150.61 L538.23,150.60 L538.49,150.59 L538.74,150.57 L539.00,150.53 L539.26,150.47 L539.52,150.38 L539.77,150.24 L540.03,150.06 L540.29,149.86 L540.55,149.64 L540.80,149.40 L541.06,149.16 L541.32,148.92 L541.58,148.69 L541.84,148.49 L542.09,148.30 L542.35,148.15 L542.61,148.03 L542.87,147.94 L543.12,147.89 L543.38,147.89 L543.64,147.93 L543.90,148.02 L544.16,148.18 L544.41,148.41 L544.67,148.69 L544.93,149.00 L545.19,149.32 L545.44,149.64 L545.70,149.94 L545.96,150.20 L546.22,150.39 L546.48,150.52 L546.73,150.59 L546.99,150.62 L547.25,150.62 L547.51,150.62 L547.76,150.62 L548.02,150.65 L548.28,150.72 L548.54,150.81 L548.80,150.93 L549.05,151.05 L549.31,151.17 L549.57,151.27 L549.83,151.34 L550.08,151.36 L550.34,151.35 L550.60,151.30 L550.86,151.23 L551.11,151.16 L551.37,151.08 L551.63,151.01 L551.89,150.97 L552.15,150.95 L552.40,150.94 L552.66,150.92 L552.92,150.90 L553.18,150.87 L553.43,150.84 L553.69,150.82 L553.95,150.80 L554.21,150.79 L554.47,150.80 L554.72,150.83 L554.98,150.88 L555.24,150.93 L555.50,150.98 L555.75,151.02 L556.01,151.05 L556.27,151.06 L556.53,151.08 L556.79,151.14 L557.04,151.21 L557.30,151.29 L557.56,151.38 L557.82,151.45 L558.07,151.50 L558.33,151.52 L558.59,151.50 L558.85,151.43 L559.11,151.33 L559.36,151.21 L559.62,151.10 L559.88,151.00 L560.14,150.93 L560.39,150.91 L560.65,150.91 L560.91,150.93 L561.17,150.95 L561.42,150.98 L561.68,151.00 L561.94,151.03 L562.20,151.04 L562.46,151.05 L562.71,151.07 L562.97,151.12 L563.23,151.19 L563.49,151.27 L563.74,151.35 L564.00,151.42 L564.26,151.46 L564.52,151.48 L564.78,151.49 L565.03,151.50 L565.29,151.52 L565.55,151.54 L565.81,151.57 L566.06,151.59 L566.32,151.60 L566.58,151.61 L566.84,151.59 L567.10,151.54 L567.35,151.47 L567.61,151.39 L567.87,151.31 L568.13,151.23 L568.38,151.18 L568.64,151.15 L568.90,151.16 L569.16,151.19 L569.42,151.23 L569.67,151.26 L569.93,151.26 L570.19,151.22 L570.45,151.12 L570.70,150.91 L570.96,150.57 L571.22,150.06 L571.48,149.39 L571.73,148.54 L571.99,147.51 L572.25,146.30 L572.51,144.93 L572.77,143.39 L573.02,141.71 L573.28,139.87 L573.54,137.92 L573.80,135.90 L574.05,133.89 L574.31,131.95 L574.57,130.17 L574.83,128.64 L575.09,127.43 L575.34,126.64 L575.60,126.30 L575.86,126.37 L576.12,126.71 L576.37,127.30 L576.63,128.13 L576.89,129.16 L577.15,130.37 L577.41,131.72 L577.66,133.19 L577.92,134.72 L578.18,136.28 L578.44,137.82 L578.69,139.33 L578.95,140.76 L579.21,142.10 L579.47,143.31 L579.73,144.40 L579.98,145.38 L580.24,146.23 L580.50,146.97 L580.76,147.61 L581.01,148.16 L581.27,148.62 L581.53,148.98 L581.79,149.26 L582.04,149.47 L582.30,149.63 L582.56,149.75 L582.82,149.84 L583.08,149.92 L583.33,150.02 L583.59,150.13 L583.85,150.26 L584.11,150.39 L584.36,150.51 L584.62,150.62 L584.88,150.69 L585.14,150.73 L585.40,150.74 L585.65,150.74 L585.91,150.74 L586.17,150.74 L586.43,150.74 L586.68,150.73 L586.94,150.74 L587.20,150.74 L587.46,150.74 L587.72,150.73 L587.97,150.71 L588.23,150.69 L588.49,150.66 L588.75,150.64 L589.00,150.63 L589.26,150.63 L589.52,150.65 L589.78,150.69 L590.04,150.74 L590.29,150.80 L590.55,150.85 L590.81,150.90 L591.07,150.94 L591.32,150.96 L591.58,150.96 L591.84,150.94 L592.10,150.90 L592.35,150.86 L592.61,150.82 L592.87,150.78 L593.13,150.76 L593.39,150.76 L593.64,150.77 L593.90,150.78 L594.16,150.79 L594.42,150.81 L594.67,150.83 L594.93,150.84 L595.19,150.85 L595.45,150.86 L595.71,150.87 L595.96,150.89 L596.22,150.91 L596.48,150.93 L596.74,150.96 L596.99,150.98 L597.25,150.99 L597.51,151.00 L597.77,151.00 L598.03,150.98 L598.28,150.95 L598.54,150.92 L598.80,150.88 L599.06,150.85 L599.31,150.83 L599.57,150.83 L599.83,150.84 L600.09,150.86 L600.35,150.88 L600.60,150.91 L600.86,150.94 L601.12,150.96 L601.38,150.98 L601.63,150.99 L601.89,151.01 L602.15,151.06 L602.41,151.13 L602.66,151.20 L602.92,151.28 L603.18,151.35 L603.44,151.40 L603.70,151.42 L603.95,151.38 L604.21,151.29 L604.47,151.17 L604.73,151.02 L604.98,150.87 L605.24,150.74 L605.50,150.65 L605.76,150.62 L606.02,150.65 L606.27,150.72 L606.53,150.81 L606.79,150.92 L607.05,151.03 L607.30,151.12 L607.56,151.19 L607.82,151.22 L608.08,151.22 L608.34,151.21 L608.59,151.20 L608.85,151.19 L609.11,151.18 L609.37,151.17 L609.62,151.17 L609.88,151.17 L610.14,151.17 L610.40,151.18 L610.66,151.18 L610.91,151.19 L611.17,151.19 L611.43,151.20 L611.69,151.21 L611.94,151.21 L612.20,151.19 L612.46,151.14 L612.72,151.06 L612.97,150.98 L613.23,150.89 L613.49,150.82 L613.75,150.77 L614.01,150.75 L614.26,150.75 L614.52,150.75 L614.78,150.74 L615.04,150.74 L615.29,150.74 L615.55,150.74 L615.81,150.74 L616.07,150.74 L616.33,150.75 L616.58,150.80 L616.84,150.86 L617.10,150.94 L617.36,151.01 L617.61,151.08 L617.87,151.12 L618.13,151.14 L618.39,151.15 L618.65,151.16 L618.90,151.18 L619.16,151.19 L619.42,151.21 L619.68,151.23 L619.93,151.24 L620.19,151.25 L620.45,151.26 L620.71,151.29 L620.97,151.34 L621.22,151.39 L621.48,151.44 L621.74,151.48 L622.00,151.52 L622.25,151.53 L622.51,151.50 L622.77,151.42 L623.03,151.30 L623.28,151.17 L623.54,151.04 L623.80,150.93 L624.06,150.85 L624.32,150.81 L624.57,150.84 L624.83,150.92 L625.09,151.02 L625.35,151.14 L625.60,151.26 L625.86,151.37 L626.12,151.44 L626.38,151.47 L626.64,151.46 L626.89,151.42 L627.15,151.37 L627.41,151.30 L627.67,151.24 L627.92,151.19 L628.18,151.15 L628.44,151.14 L628.70,151.15 L628.96,151.17 L629.21,151.19 L629.47,151.23 L629.73,151.26 L629.99,151.29 L630.24,151.31 L630.50,151.32 L630.76,151.32 L631.02,151.32 L631.28,151.33 L631.53,151.33 L631.79,151.33 L632.05,151.34 L632.31,151.34 L632.56,151.34 L632.82,151.34 L633.08,151.34 L633.34,151.33 L633.59,151.33 L633.85,151.32 L634.11,151.32 L634.37,151.32 L634.63,151.32 L634.88,151.32 L635.14,151.34 L635.40,151.36 L635.66,151.39 L635.91,151.42 L636.17,151.44 L636.43,151.46 L636.69,151.47 L636.95,151.47 L637.20,151.49 L637.46,151.51 L637.72,151.54 L637.98,151.56 L638.23,151.59 L638.49,151.60 L638.75,151.61" fill="none" stroke="#14aeec" stroke-width="1.7" stroke-linejoin="round"/>
<path d="M484.10,183.78 L484.36,183.77 L484.62,183.77 L484.87,183.77 L485.13,183.76 L485.39,183.76 L485.65,183.76 L485.90,183.75 L486.16,183.75 L486.42,183.75 L486.68,183.76 L486.94,183.77 L487.19,183.78 L487.45,183.79 L487.71,183.80 L487.97,183.81 L488.22,183.81 L488.48,183.84 L488.74,183.93 L489.00,184.06 L489.25,184.21 L489.51,184.36 L489.77,184.49 L490.03,184.58 L490.29,184.62 L490.54,184.59 L490.80,184.54 L491.06,184.46 L491.32,184.36 L491.57,184.27 L491.83,184.19 L492.09,184.13 L492.35,184.11 L492.61,184.12 L492.86,184.13 L493.12,184.16 L493.38,184.19 L493.64,184.22 L493.89,184.25 L494.15,184.27 L494.41,184.28 L494.67,184.27 L494.93,184.26 L495.18,184.24 L495.44,184.22 L495.70,184.20 L495.96,184.19 L496.21,184.17 L496.47,184.17 L496.73,184.19 L496.99,184.23 L497.25,184.30 L497.50,184.37 L497.76,184.44 L498.02,184.51 L498.28,184.55 L498.53,184.57 L498.79,184.57 L499.05,184.56 L499.31,184.55 L499.56,184.54 L499.82,184.53 L500.08,184.52 L500.34,184.51 L500.60,184.51 L500.85,184.50 L501.11,184.47 L501.37,184.43 L501.63,184.38 L501.88,184.34 L502.14,184.29 L502.40,184.27 L502.66,184.26 L502.92,184.27 L503.17,184.29 L503.43,184.33 L503.69,184.37 L503.95,184.41 L504.20,184.44 L504.46,184.47 L504.72,184.48 L504.98,184.47 L505.24,184.44 L505.49,184.40 L505.75,184.36 L506.01,184.32 L506.27,184.28 L506.52,184.26 L506.78,184.24 L507.04,184.26 L507.30,184.31 L507.56,184.38 L507.81,184.46 L508.07,184.54 L508.33,184.61 L508.59,184.66 L508.84,184.68 L509.10,184.67 L509.36,184.67 L509.62,184.66 L509.87,184.64 L510.13,184.63 L510.39,184.62 L510.65,184.62 L510.91,184.61 L511.16,184.59 L511.42,184.52 L511.68,184.42 L511.94,184.30 L512.19,184.19 L512.45,184.09 L512.71,184.02 L512.97,183.99 L513.23,184.00 L513.48,184.04 L513.74,184.08 L514.00,184.13 L514.26,184.19 L514.51,184.23 L514.77,184.27 L515.03,184.28 L515.29,184.27 L515.55,184.26 L515.80,184.25 L516.06,184.23 L516.32,184.22 L516.58,184.20 L516.83,184.19 L517.09,184.19 L517.35,184.18 L517.61,184.15 L517.87,184.12 L518.12,184.08 L518.38,184.04 L518.64,184.00 L518.90,183.98 L519.15,183.97 L519.41,183.98 L519.67,184.02 L519.93,184.08 L520.18,184.15 L520.44,184.22 L520.70,184.28 L520.96,184.32 L521.22,184.34 L521.47,184.35 L521.73,184.39 L521.99,184.44 L522.25,184.49 L522.50,184.55 L522.76,184.60 L523.02,184.63 L523.28,184.64 L523.54,184.61 L523.79,184.53 L524.05,184.41 L524.31,184.28 L524.57,184.15 L524.82,184.03 L525.08,183.95 L525.34,183.92 L525.60,183.93 L525.86,183.95 L526.11,183.98 L526.37,184.01 L526.63,184.05 L526.89,184.08 L527.14,184.10 L527.40,184.11 L527.66,184.11 L527.92,184.10 L528.18,184.09 L528.43,184.08 L528.69,184.06 L528.95,184.05 L529.21,184.05 L529.46,184.04 L529.72,184.04 L529.98,184.05 L530.24,184.05 L530.49,184.06 L530.75,184.07 L531.01,184.07 L531.27,184.08 L531.53,184.08 L531.78,184.06 L532.04,184.02 L532.30,183.97 L532.56,183.90 L532.81,183.84 L533.07,183.78 L533.33,183.74 L533.59,183.73 L533.85,183.76 L534.10,183.82 L534.36,183.92 L534.62,184.03 L534.88,184.14 L535.13,184.24 L535.39,184.31 L535.65,184.34 L535.91,184.32 L536.17,184.28 L536.42,184.21 L536.68,184.14 L536.94,184.07 L537.20,184.00 L537.45,183.96 L537.71,183.94 L537.97,183.96 L538.23,184.00 L538.49,184.06 L538.74,184.14 L539.00,184.21 L539.26,184.27 L539.52,184.31 L539.77,184.33 L540.03,184.32 L540.29,184.30 L540.55,184.27 L540.80,184.23 L541.06,184.19 L541.32,184.16 L541.58,184.14 L541.84,184.13 L542.09,184.12 L542.35,184.09 L542.61,184.04 L542.87,183.95 L543.12,183.79 L543.38,183.54 L543.64,183.16 L543.90,182.67 L544.16,182.12 L544.41,181.63 L544.67,181.29 L544.93,181.21 L545.19,181.29 L545.44,181.37 L545.70,181.46 L545.96,181.54 L546.22,181.63 L546.48,181.75 L546.73,181.90 L546.99,182.06 L547.25,182.23 L547.51,182.41 L547.76,182.57 L548.02,182.73 L548.28,182.85 L548.54,182.95 L548.80,183.03 L549.05,183.09 L549.31,183.15 L549.57,183.21 L549.83,183.27 L550.08,183.36 L550.34,183.45 L550.60,183.50 L550.86,183.54 L551.11,183.57 L551.37,183.58 L551.63,183.60 L551.89,183.62 L552.15,183.65 L552.40,183.69 L552.66,183.73 L552.92,183.78 L553.18,183.83 L553.43,183.87 L553.69,183.90 L553.95,183.93 L554.21,183.95 L554.47,183.96 L554.72,183.99 L554.98,184.02 L555.24,184.05 L555.50,184.08 L555.75,184.11 L556.01,184.13 L556.27,184.14 L556.53,184.14 L556.79,184.12 L557.04,184.09 L557.30,184.06 L557.56,184.03 L557.82,184.00 L558.07,183.98 L558.33,183.98 L558.59,184.00 L558.85,184.05 L559.11,184.13 L559.36,184.22 L559.62,184.30 L559.88,184.38 L560.14,184.44 L560.39,184.46 L560.65,184.46 L560.91,184.46 L561.17,184.47 L561.42,184.47 L561.68,184.47 L561.94,184.47 L562.20,184.48 L562.46,184.48 L562.71,184.47 L562.97,184.46 L563.23,184.44 L563.49,184.41 L563.74,184.39 L564.00,184.36 L564.26,184.35 L564.52,184.35 L564.78,184.33 L565.03,184.27 L565.29,184.19 L565.55,184.10 L565.81,184.01 L566.06,183.94 L566.32,183.88 L566.58,183.86 L566.84,183.89 L567.10,183.96 L567.35,184.06 L567.61,184.18 L567.87,184.29 L568.13,184.39 L568.38,184.46 L568.64,184.49 L568.90,184.49 L569.16,184.50 L569.42,184.52 L569.67,184.53 L569.93,184.55 L570.19,184.56 L570.45,184.57 L570.70,184.57 L570.96,184.58 L571.22,184.58 L571.48,184.58 L571.73,184.58 L571.99,184.59 L572.25,184.59 L572.51,184.59 L572.77,184.59 L573.02,184.60 L573.28,184.60 L573.54,184.61 L573.80,184.62 L574.05,184.64 L574.31,184.65 L574.57,184.65 L574.83,184.66 L575.09,184.65 L575.34,184.62 L575.60,184.58 L575.86,184.54 L576.12,184.49 L576.37,184.46 L576.63,184.43 L576.89,184.42 L577.15,184.41 L577.41,184.37 L577.66,184.33 L577.92,184.27 L578.18,184.22 L578.44,184.17 L578.69,184.14 L578.95,184.12 L579.21,184.11 L579.47,184.09 L579.73,184.05 L579.98,184.00 L580.24,183.96 L580.50,183.92 L580.76,183.89 L581.01,183.88 L581.27,183.90 L581.53,183.95 L581.79,184.03 L582.04,184.12 L582.30,184.21 L582.56,184.29 L582.82,184.35 L583.08,184.37 L583.33,184.37 L583.59,184.36 L583.85,184.36 L584.11,184.35 L584.36,184.34 L584.62,184.34 L584.88,184.33 L585.14,184.33 L585.40,184.33 L585.65,184.34 L585.91,184.36 L586.17,184.37 L586.43,184.38 L586.68,184.40 L586.94,184.41 L587.20,184.41 L587.46,184.41 L587.72,184.41 L587.97,184.41 L588.23,184.40 L588.49,184.40 L588.75,184.40 L589.00,184.40 L589.26,184.39 L589.52,184.37 L589.78,184.32 L590.04,184.25 L590.29,184.16 L590.55,184.07 L590.81,184.00 L591.07,183.94 L591.32,183.92 L591.58,183.93 L591.84,183.96 L592.10,183.99 L592.35,184.04 L592.61,184.08 L592.87,184.11 L593.13,184.14 L593.39,184.15 L593.64,184.16 L593.90,184.20 L594.16,184.24 L594.42,184.30 L594.67,184.35 L594.93,184.40 L595.19,184.43 L595.45,184.44 L595.71,184.45 L595.96,184.47 L596.22,184.49 L596.48,184.52 L596.74,184.54 L596.99,184.57 L597.25,184.59 L597.51,184.59 L597.77,184.56 L598.03,184.49 L598.28,184.38 L598.54,184.25 L598.80,184.13 L599.06,184.02 L599.31,183.95 L599.57,183.92 L599.83,183.92 L600.09,183.93 L600.35,183.94 L600.60,183.95 L600.86,183.97 L601.12,183.98 L601.38,183.99 L601.63,183.99 L601.89,183.99 L602.15,183.97 L602.41,183.95 L602.66,183.93 L602.92,183.91 L603.18,183.89 L603.44,183.88 L603.70,183.87 L603.95,183.90 L604.21,183.96 L604.47,184.06 L604.73,184.17 L604.98,184.28 L605.24,184.37 L605.50,184.44 L605.76,184.46 L606.02,184.45 L606.27,184.41 L606.53,184.36 L606.79,184.31 L607.05,184.25 L607.30,184.20 L607.56,184.17 L607.82,184.15 L608.08,184.14 L608.34,184.10 L608.59,184.04 L608.85,183.97 L609.11,183.90 L609.37,183.84 L609.62,183.80 L609.88,183.78 L610.14,183.80 L610.40,183.83 L610.66,183.88 L610.91,183.94 L611.17,184.00 L611.43,184.06 L611.69,184.09 L611.94,184.11 L612.20,184.09 L612.46,184.05 L612.72,184.00 L612.97,183.93 L613.23,183.87 L613.49,183.81 L613.75,183.77 L614.01,183.75 L614.26,183.79 L614.52,183.88 L614.78,184.00 L615.04,184.14 L615.29,184.29 L615.55,184.41 L615.81,184.50 L616.07,184.53 L616.33,184.50 L616.58,184.41 L616.84,184.28 L617.10,184.13 L617.36,183.98 L617.61,183.85 L617.87,183.76 L618.13,183.72 L618.39,183.76 L618.65,183.87 L618.90,184.02 L619.16,184.18 L619.42,184.35 L619.68,184.50 L619.93,184.60 L620.19,184.64 L620.45,184.63 L620.71,184.59 L620.97,184.53 L621.22,184.46 L621.48,184.40 L621.74,184.34 L622.00,184.30 L622.25,184.28 L622.51,184.30 L622.77,184.35 L623.03,184.41 L623.28,184.48 L623.54,184.55 L623.80,184.62 L624.06,184.66 L624.32,184.68 L624.57,184.64 L624.83,184.55 L625.09,184.43 L625.35,184.28 L625.60,184.14 L625.86,184.01 L626.12,183.92 L626.38,183.89 L626.64,183.90 L626.89,183.91 L627.15,183.93 L627.41,183.95 L627.67,183.97 L627.92,183.99 L628.18,184.01 L628.44,184.01 L628.70,184.00 L628.96,183.97 L629.21,183.92 L629.47,183.87 L629.73,183.82 L629.99,183.77 L630.24,183.74 L630.50,183.73 L630.76,183.73 L631.02,183.75 L631.28,183.78 L631.53,183.81 L631.79,183.84 L632.05,183.87 L632.31,183.89 L632.56,183.90 L632.82,183.89 L633.08,183.87 L633.34,183.85 L633.59,183.82 L633.85,183.80 L634.11,183.77 L634.37,183.76 L634.63,183.75 L634.88,183.77 L635.14,183.82 L635.40,183.88 L635.66,183.96 L635.91,184.03 L636.17,184.10 L636.43,184.14 L636.69,184.16 L636.95,184.14 L637.20,184.09 L637.46,184.02 L637.72,183.94 L637.98,183.85 L638.23,183.78 L638.49,183.73 L638.75,183.71" fill="none" stroke="#222" stroke-width="1.7" stroke-linejoin="round"/>
<line x1="511.9" y1="71" x2="511.9" y2="208" stroke="#7a7a7a" stroke-width="1.2" stroke-dasharray="5,3"/>
<line x1="575.3" y1="3" x2="575.3" y2="208" stroke="#7a7a7a" stroke-width="1.2" stroke-dasharray="5,3"/>
<line x1="484.1" y1="209.2" x2="638.7" y2="209.2" stroke="#7d7d7d" stroke-width="1"/>
<line x1="484.1" y1="209.2" x2="484.1" y2="214.4" stroke="#7d7d7d" stroke-width="1"/>
<text x="484.1" y="227.3" font-size="10" text-anchor="middle" class="thin">10.0</text>
<line x1="535.63" y1="209.2" x2="535.63" y2="214.4" stroke="#7d7d7d" stroke-width="1"/>
<text x="535.63" y="227.3" font-size="10" text-anchor="middle" class="thin">10.5</text>
<line x1="587.1600000000001" y1="209.2" x2="587.1600000000001" y2="214.4" stroke="#7d7d7d" stroke-width="1"/>
<text x="587.16" y="227.3" font-size="10" text-anchor="middle" textLength="16.6" lengthAdjust="spacingAndGlyphs" class="thin">11.0</text>
<line x1="638.69" y1="209.2" x2="638.69" y2="214.4" stroke="#7d7d7d" stroke-width="1"/>
<text x="638.69" y="227.3" font-size="10" text-anchor="middle" textLength="16.6" lengthAdjust="spacingAndGlyphs" class="thin">11.5</text>
<text x="575.8" y="246.6" font-size="11" text-anchor="middle" textLength="56.3" lengthAdjust="spacingAndGlyphs">Time (min)</text>
<text x="433.7" y="107" font-size="11" text-anchor="middle" textLength="92" lengthAdjust="spacingAndGlyphs">Cp<tspan font-style="italic">CYP87A103</tspan>Ox</text>
<text x="433.5" y="120.7" font-size="11" text-anchor="middle" textLength="32" lengthAdjust="spacingAndGlyphs">Line 3</text>
<text x="433.7" y="149.6" font-size="11" text-anchor="middle" textLength="92" lengthAdjust="spacingAndGlyphs">Cp<tspan font-style="italic">CYP87A103</tspan>Ox</text>
<text x="433.7" y="163.7" font-size="11" text-anchor="middle" textLength="29.5" lengthAdjust="spacingAndGlyphs">Line 1</text>
<text x="433.8" y="190.2" font-size="11" text-anchor="middle" textLength="51" lengthAdjust="spacingAndGlyphs">Wild type</text>
<text x="59.5" y="281.9" font-size="17" font-weight="bold" fill="#000" style="stroke:#000">c</text>
<text x="226.2" y="283" font-size="11.5" text-anchor="middle" textLength="106" lengthAdjust="spacingAndGlyphs">Dp<tspan font-style="italic">CYP87A106</tspan>-RNAi</text>
<line x1="149.1" y1="298.3" x2="149.1" y2="483.3" stroke="#b9b9b9" stroke-width="1.4"/>
<line x1="144.2" y1="298.3" x2="148.4" y2="298.3" stroke="#6e6e6e" stroke-width="1"/>
<line x1="144.2" y1="344.5" x2="148.4" y2="344.5" stroke="#6e6e6e" stroke-width="1"/>
<line x1="144.2" y1="390.8" x2="148.4" y2="390.8" stroke="#6e6e6e" stroke-width="1"/>
<line x1="144.2" y1="437.0" x2="148.4" y2="437.0" stroke="#6e6e6e" stroke-width="1"/>
<line x1="144.2" y1="483.3" x2="148.4" y2="483.3" stroke="#6e6e6e" stroke-width="1"/>
<text class="thin" x="140" y="301.90000000000003" font-size="10" text-anchor="end">1.80<tspan font-size="9.5" dx="1.8">×</tspan><tspan dx="1.8">10</tspan><tspan font-size="6.5" dy="-4.5">5</tspan></text>
<text class="thin" x="140" y="348.1" font-size="10" text-anchor="end">1.35<tspan font-size="9.5" dx="1.8">×</tspan><tspan dx="1.8">10</tspan><tspan font-size="6.5" dy="-4.5">5</tspan></text>
<text class="thin" x="140" y="394.40000000000003" font-size="10" text-anchor="end"><tspan letter-spacing="0.8">9.00</tspan><tspan font-size="9.5" dx="1.8">×</tspan><tspan dx="1.8">10</tspan><tspan font-size="6.5" dy="-4.5">4</tspan></text>
<text class="thin" x="140" y="440.6" font-size="10" text-anchor="end"><tspan letter-spacing="0.8">4.50</tspan><tspan font-size="9.5" dx="1.8">×</tspan><tspan dx="1.8">10</tspan><tspan font-size="6.5" dy="-4.5">4</tspan></text>
<text x="137.5" y="487.0" font-size="10" text-anchor="middle" class="thin">0</text>
<line x1="149.1" y1="483.3" x2="304.1" y2="483.3" stroke="#9a9a9a" stroke-width="1.2"/>
<line x1="166.4" y1="483.9" x2="166.4" y2="487.2" stroke="#9a9a9a" stroke-width="1"/>
<line x1="196.1" y1="483.9" x2="196.1" y2="487.2" stroke="#9a9a9a" stroke-width="1"/>
<line x1="225.8" y1="483.9" x2="225.8" y2="487.2" stroke="#9a9a9a" stroke-width="1"/>
<line x1="255.5" y1="483.9" x2="255.5" y2="487.2" stroke="#9a9a9a" stroke-width="1"/>
<line x1="285.2" y1="483.9" x2="285.2" y2="487.2" stroke="#9a9a9a" stroke-width="1"/>
<rect x="154.2" y="374.3" width="24.4" height="109.0" fill="#a3a3a3" stroke="#555" stroke-width="1"/>
<circle cx="166.4" cy="328.4" r="2.7" fill="#0000ff"/>
<circle cx="160.1" cy="388.4" r="2.7" fill="#0000ff"/>
<circle cx="166.4" cy="385.1" r="2.7" fill="#0000ff"/>
<circle cx="172.5" cy="394.9" r="2.7" fill="#0000ff"/>
<circle cx="190.2" cy="483.3" r="2.7" fill="#0000ff"/>
<circle cx="202.5" cy="483.3" r="2.7" fill="#0000ff"/>
<circle cx="217.8" cy="483.3" r="2.7" fill="#0000ff"/>
<circle cx="226.2" cy="483.3" r="2.7" fill="#0000ff"/>
<circle cx="234.4" cy="483.3" r="2.7" fill="#0000ff"/>
<circle cx="246.8" cy="483.3" r="2.7" fill="#0000ff"/>
<circle cx="253.2" cy="483.3" r="2.7" fill="#0000ff"/>
<circle cx="259.1" cy="483.3" r="2.7" fill="#0000ff"/>
<circle cx="265.4" cy="483.3" r="2.7" fill="#0000ff"/>
<circle cx="279.5" cy="483.3" r="2.7" fill="#0000ff"/>
<circle cx="292" cy="483.3" r="2.7" fill="#0000ff"/>
<line x1="166.5" y1="358.5" x2="166.5" y2="389.4" stroke="#4a4a4a" stroke-width="1"/>
<line x1="159.9" y1="358.5" x2="172.8" y2="358.5" stroke="#9a9a9a" stroke-width="1"/>
<line x1="159.9" y1="389.4" x2="172.8" y2="389.4" stroke="#4a4a4a" stroke-width="1"/>
<text font-size="11" text-anchor="end" transform="translate(170.7,496.4) rotate(-45)" textLength="51" lengthAdjust="spacingAndGlyphs">Wild type</text>
<text font-size="11" text-anchor="end" transform="translate(201.8,496.8) rotate(-45)" textLength="32" lengthAdjust="spacingAndGlyphs">Line 1</text>
<text font-size="11" text-anchor="end" transform="translate(231.5,496.8) rotate(-45)" textLength="32" lengthAdjust="spacingAndGlyphs">Line 2</text>
<text font-size="11" text-anchor="end" transform="translate(261.2,496.8) rotate(-45)" textLength="32" lengthAdjust="spacingAndGlyphs">Line 3</text>
<text font-size="11" text-anchor="end" transform="translate(290.9,496.8) rotate(-45)" textLength="32" lengthAdjust="spacingAndGlyphs">Line 4</text>
<text font-size="11.5" text-anchor="middle" class="thin" transform="translate(69.0,391) rotate(-90)" textLength="151.7" lengthAdjust="spacingAndGlyphs">Relative pregnenolone level</text>
<text font-size="12.3" text-anchor="middle" class="thin" transform="translate(82.8,391) rotate(-90)" textLength="59.4" lengthAdjust="spacingAndGlyphs">(peak area)</text>
<text x="392" y="281.9" font-size="17" font-weight="bold" fill="#000" style="stroke:#000">d</text>
<text x="545.9" y="283" font-size="11.5" text-anchor="middle" textLength="105.5" lengthAdjust="spacingAndGlyphs">Dp<tspan font-style="italic">CYP87A106</tspan>-RNAi</text>
<line x1="468.6" y1="298.3" x2="468.6" y2="483.3" stroke="#b9b9b9" stroke-width="1.4"/>
<line x1="464.2" y1="298.3" x2="467.90000000000003" y2="298.3" stroke="#6e6e6e" stroke-width="1"/>
<line x1="464.2" y1="344.5" x2="467.90000000000003" y2="344.5" stroke="#6e6e6e" stroke-width="1"/>
<line x1="464.2" y1="390.8" x2="467.90000000000003" y2="390.8" stroke="#6e6e6e" stroke-width="1"/>
<line x1="464.2" y1="437.0" x2="467.90000000000003" y2="437.0" stroke="#6e6e6e" stroke-width="1"/>
<line x1="464.2" y1="483.3" x2="467.90000000000003" y2="483.3" stroke="#6e6e6e" stroke-width="1"/>
<text class="thin" x="459.5" y="301.90000000000003" font-size="10" text-anchor="end">8<tspan font-size="9.5" dx="1.8">×</tspan><tspan dx="1.8">10</tspan><tspan font-size="6.5" dy="-4.5">5</tspan></text>
<text class="thin" x="459.5" y="348.1" font-size="10" text-anchor="end">6<tspan font-size="9.5" dx="1.8">×</tspan><tspan dx="1.8">10</tspan><tspan font-size="6.5" dy="-4.5">5</tspan></text>
<text class="thin" x="459.5" y="394.40000000000003" font-size="10" text-anchor="end">4<tspan font-size="9.5" dx="1.8">×</tspan><tspan dx="1.8">10</tspan><tspan font-size="6.5" dy="-4.5">5</tspan></text>
<text class="thin" x="459.5" y="440.6" font-size="10" text-anchor="end">2<tspan font-size="9.5" dx="1.8">×</tspan><tspan dx="1.8">10</tspan><tspan font-size="6.5" dy="-4.5">5</tspan></text>
<text x="456" y="487.0" font-size="10" text-anchor="middle" class="thin">0</text>
<line x1="468.6" y1="483.3" x2="623.6" y2="483.3" stroke="#9a9a9a" stroke-width="1.2"/>
<line x1="486.1" y1="483.9" x2="486.1" y2="487.5" stroke="#9a9a9a" stroke-width="1"/>
<line x1="515.9" y1="483.9" x2="515.9" y2="487.5" stroke="#9a9a9a" stroke-width="1"/>
<line x1="545.7" y1="483.9" x2="545.7" y2="487.5" stroke="#9a9a9a" stroke-width="1"/>
<line x1="575.5" y1="483.9" x2="575.5" y2="487.5" stroke="#9a9a9a" stroke-width="1"/>
<line x1="605.3000000000001" y1="483.9" x2="605.3000000000001" y2="487.5" stroke="#9a9a9a" stroke-width="1"/>
<rect x="474.1" y="335.3" width="24.4" height="148.0" fill="#a3a3a3" stroke="#555" stroke-width="1"/>
<rect x="533.7" y="480.9" width="24.4" height="2.400000000000034" fill="#a3a3a3" stroke="#555" stroke-width="0.9"/>
<rect x="563.5" y="477.2" width="24.4" height="6.100000000000023" fill="#a3a3a3" stroke="#555" stroke-width="0.9"/>
<rect x="593.4" y="480.2" width="24.4" height="3.1000000000000227" fill="#a3a3a3" stroke="#555" stroke-width="0.9"/>
<circle cx="480" cy="321.1" r="2.7" fill="#0000ff"/>
<circle cx="492.4" cy="326" r="2.7" fill="#0000ff"/>
<circle cx="486.1" cy="342.2" r="2.7" fill="#0000ff"/>
<circle cx="486.1" cy="351.4" r="2.7" fill="#0000ff"/>
<circle cx="509.8" cy="483" r="2.7" fill="#0000ff"/>
<circle cx="522.2" cy="483" r="2.7" fill="#0000ff"/>
<circle cx="537.7" cy="478.3" r="2.7" fill="#0000ff"/>
<circle cx="546.2" cy="480.2" r="2.7" fill="#0000ff"/>
<circle cx="554.4" cy="482.9" r="2.7" fill="#0000ff"/>
<circle cx="566.6" cy="476.3" r="2.7" fill="#0000ff"/>
<circle cx="572.7" cy="476.3" r="2.7" fill="#0000ff"/>
<circle cx="578.9" cy="476.3" r="2.7" fill="#0000ff"/>
<circle cx="585.2" cy="478.3" r="2.7" fill="#0000ff"/>
<circle cx="599.7" cy="479.2" r="2.7" fill="#0000ff"/>
<circle cx="611.8" cy="481.1" r="2.7" fill="#0000ff"/>
<line x1="486.5" y1="328.4" x2="486.5" y2="342.4" stroke="#4a4a4a" stroke-width="1"/>
<line x1="480" y1="328.4" x2="492.4" y2="328.4" stroke="#4a4a4a" stroke-width="1"/>
<line x1="480" y1="342.4" x2="492.4" y2="342.4" stroke="#4a4a4a" stroke-width="1"/>
<line x1="540.3" y1="479.2" x2="551.8" y2="479.2" stroke="#4a4a4a" stroke-width="0.9"/>
<line x1="569" y1="476.0" x2="582" y2="476.0" stroke="#4a4a4a" stroke-width="0.9"/>
<line x1="600" y1="479.0" x2="611" y2="479.0" stroke="#4a4a4a" stroke-width="0.9"/>
<polygon points="509.70,468.50 510.48,470.52 512.65,470.64 510.97,472.01 511.52,474.11 509.70,472.93 507.88,474.11 508.43,472.01 506.75,470.64 508.92,470.52" fill="#111"/>
<polygon points="516.00,468.50 516.78,470.52 518.95,470.64 517.27,472.01 517.82,474.11 516.00,472.93 514.18,474.11 514.73,472.01 513.05,470.64 515.22,470.52" fill="#111"/>
<polygon points="522.30,468.50 523.08,470.52 525.25,470.64 523.57,472.01 524.12,474.11 522.30,472.93 520.48,474.11 521.03,472.01 519.35,470.64 521.52,470.52" fill="#111"/>
<polygon points="539.10,464.80 539.88,466.82 542.05,466.94 540.37,468.31 540.92,470.41 539.10,469.23 537.28,470.41 537.83,468.31 536.15,466.94 538.32,466.82" fill="#111"/>
<polygon points="545.40,464.80 546.18,466.82 548.35,466.94 546.67,468.31 547.22,470.41 545.40,469.23 543.58,470.41 544.13,468.31 542.45,466.94 544.62,466.82" fill="#111"/>
<polygon points="551.70,464.80 552.48,466.82 554.65,466.94 552.97,468.31 553.52,470.41 551.70,469.23 549.88,470.41 550.43,468.31 548.75,466.94 550.92,466.82" fill="#111"/>
<polygon points="570.10,462.80 570.88,464.82 573.05,464.94 571.37,466.31 571.92,468.41 570.10,467.23 568.28,468.41 568.83,466.31 567.15,464.94 569.32,464.82" fill="#111"/>
<polygon points="576.40,462.80 577.18,464.82 579.35,464.94 577.67,466.31 578.22,468.41 576.40,467.23 574.58,468.41 575.13,466.31 573.45,464.94 575.62,464.82" fill="#111"/>
<polygon points="582.70,462.80 583.48,464.82 585.65,464.94 583.97,466.31 584.52,468.41 582.70,467.23 580.88,468.41 581.43,466.31 579.75,464.94 581.92,464.82" fill="#111"/>
<polygon points="599.10,465.50 599.88,467.52 602.05,467.64 600.37,469.01 600.92,471.11 599.10,469.93 597.28,471.11 597.83,469.01 596.15,467.64 598.32,467.52" fill="#111"/>
<polygon points="605.40,465.50 606.18,467.52 608.35,467.64 606.67,469.01 607.22,471.11 605.40,469.93 603.58,471.11 604.13,469.01 602.45,467.64 604.62,467.52" fill="#111"/>
<polygon points="611.70,465.50 612.48,467.52 614.65,467.64 612.97,469.01 613.52,471.11 611.70,469.93 609.88,471.11 610.43,469.01 608.75,467.64 610.92,467.52" fill="#111"/>
<text font-size="11" text-anchor="end" transform="translate(491.0,495.9) rotate(-45)" textLength="51" lengthAdjust="spacingAndGlyphs">Wild type</text>
<text font-size="11" text-anchor="end" transform="translate(522.9,496.8) rotate(-45)" textLength="32" lengthAdjust="spacingAndGlyphs">Line 1</text>
<text font-size="11" text-anchor="end" transform="translate(552.7,496.8) rotate(-45)" textLength="32" lengthAdjust="spacingAndGlyphs">Line 2</text>
<text font-size="11" text-anchor="end" transform="translate(582.5,496.8) rotate(-45)" textLength="32" lengthAdjust="spacingAndGlyphs">Line 3</text>
<text font-size="11" text-anchor="end" transform="translate(612.3,496.8) rotate(-45)" textLength="32" lengthAdjust="spacingAndGlyphs">Line 4</text>
<text font-size="11.5" text-anchor="middle" class="thin" transform="translate(401.7,390.4) rotate(-90)" textLength="139.8" lengthAdjust="spacingAndGlyphs">Relative cardenolide level</text>
<text font-size="12.3" text-anchor="middle" class="thin" transform="translate(414.9,390.4) rotate(-90)" textLength="59" lengthAdjust="spacingAndGlyphs">(peak area)</text>
<text x="0.5" y="611.9" font-size="17" font-weight="bold" fill="#000" style="stroke:#000">e</text>
<path d="M313.3,668.5 H309.5 V700.5 H313.3" fill="none" stroke="#3a3a3a" stroke-width="1"/>
<path d="M298.5,684.5 H309.5" fill="none" stroke="#3a3a3a" stroke-width="1" stroke-linecap="square"/>
<path d="M298.4,684.5 H298.5 V731.5 H330.6" fill="none" stroke="#3a3a3a" stroke-width="1"/>
<path d="M291.9,763.5 H286.5 V795.5 H291.9" fill="none" stroke="#3a3a3a" stroke-width="1"/>
<path d="M298.4,708.5 H276.5 V779.5 H286.3" fill="none" stroke="#3a3a3a" stroke-width="1"/>
<path d="M291.9,858.5 H279.5 V890.5 H293.5" fill="none" stroke="#3a3a3a" stroke-width="1"/>
<path d="M314.6,826.5 H277.5 V874.5 H279.3" fill="none" stroke="#3a3a3a" stroke-width="1"/>
<path d="M276.8,743.5 H272.5 V850.5 H277.1" fill="none" stroke="#3a3a3a" stroke-width="1"/>
<path d="M272.2,796.5 H257.5 V921.5 H310.0" fill="none" stroke="#3a3a3a" stroke-width="1"/>
<path d="M257.3,859.5 H219.5 V953.5 H269.5" fill="none" stroke="#3a3a3a" stroke-width="1"/>
<path d="M219.4,906.5 H0.5 V985.5 H330.6" fill="none" stroke="#3a3a3a" stroke-width="1"/>
<line x1="4.9" y1="996.3" x2="91.1" y2="996.3" stroke="#222" stroke-width="2"/>
<line x1="4.9" y1="993.2" x2="4.9" y2="999.8" stroke="#222" stroke-width="1.4"/>
<line x1="91.1" y1="993.2" x2="91.1" y2="999.8" stroke="#222" stroke-width="1.4"/>
<text x="46.4" y="1012.3" font-size="10" text-anchor="middle" textLength="24.5" lengthAdjust="spacingAndGlyphs">0.50</text>
<text x="305.8" y="678.6" font-size="10" text-anchor="end" textLength="11.8" lengthAdjust="spacingAndGlyphs" class="thin">99</text>
<text x="294.70000000000005" y="703.6" font-size="10" text-anchor="end" textLength="11.8" lengthAdjust="spacingAndGlyphs" class="thin">99</text>
<text x="274.90000000000003" y="737.1" font-size="10" text-anchor="end" textLength="11.8" lengthAdjust="spacingAndGlyphs" class="thin">28</text>
<text x="285.90000000000003" y="790.3" font-size="10" text-anchor="end" textLength="11.8" lengthAdjust="spacingAndGlyphs" class="thin">99</text>
<text x="267.5" y="792.7" font-size="10" text-anchor="end" textLength="11.8" lengthAdjust="spacingAndGlyphs" class="thin">75</text>
<text x="253.29999999999998" y="855.9" font-size="10" text-anchor="end" textLength="11.8" lengthAdjust="spacingAndGlyphs" class="thin">93</text>
<text x="275.6" y="861.5" font-size="10" text-anchor="end" textLength="11.8" lengthAdjust="spacingAndGlyphs" class="thin">49</text>
<text x="277.20000000000005" y="887.5" font-size="10" text-anchor="end" textLength="11.8" lengthAdjust="spacingAndGlyphs" class="thin">40</text>
<text x="319.5" y="672.5" font-size="11" textLength="60.1" lengthAdjust="spacingAndGlyphs">AtCYP87A2</text>
<text x="318.7" y="704.1" font-size="11" textLength="61.8" lengthAdjust="spacingAndGlyphs">EcCYP87A2</text>
<text x="334.4" y="736.5" font-size="11" textLength="73.7" lengthAdjust="spacingAndGlyphs" fill="#ff2020" style="stroke:#ff2020">EcCYP87A126</text>
<text x="296.2" y="767.4" font-size="11" textLength="63.9" lengthAdjust="spacingAndGlyphs">SlCYP87A21</text>
<text x="295.79999999999995" y="798.6" font-size="11" textLength="74.9" lengthAdjust="spacingAndGlyphs">NbCYP87A122</text>
<text x="319.29999999999995" y="830.1" font-size="11" textLength="77.0" lengthAdjust="spacingAndGlyphs" fill="#ff2020" style="stroke:#ff2020">DpCYP87A106</text>
<text x="296.2" y="862.1" font-size="11" textLength="68.0" lengthAdjust="spacingAndGlyphs">SiCYP87A113</text>
<text x="297.79999999999995" y="893.5" font-size="11" textLength="72.5" lengthAdjust="spacingAndGlyphs">OeCYP87A93</text>
<text x="318.2" y="924.8" font-size="11" textLength="64.4" lengthAdjust="spacingAndGlyphs">OsCYP87A6</text>
<text x="273.9" y="957.2" font-size="11" textLength="77.6" lengthAdjust="spacingAndGlyphs" fill="#ff2020" style="stroke:#ff2020">CpCYP87A103</text>
<text x="335.29999999999995" y="988.7" font-size="11" textLength="57.1" lengthAdjust="spacingAndGlyphs">HsCYP11A1</text>
<rect x="446.3" y="651.9" width="171.6" height="321.2" fill="#fae4d7" stroke="#5a5a5a" stroke-width="1" stroke-dasharray="5,1.8"/>
<rect x="454.6" y="660.7" width="32.5" height="24.3" rx="0.6" fill="#fae4d7" stroke="#2d2d2d" stroke-width="1"/>
<line x1="468.2" y1="672.8" x2="473.5" y2="672.8" stroke="#444" stroke-width="1"/>
<rect x="513.3" y="660.7" width="32.1" height="24.3" rx="0.6" fill="#fae4d7" stroke="#2d2d2d" stroke-width="1"/>
<text class="thin" x="529.3" y="675.1" font-size="11.5" text-anchor="middle">65</text>
<rect x="573.6" y="660.7" width="31.9" height="24.3" rx="0.6" fill="#fae4d7" stroke="#2d2d2d" stroke-width="1"/>
<line x1="586.9" y1="672.8" x2="592.1" y2="672.8" stroke="#444" stroke-width="1"/>
<rect x="513.3" y="693.6" width="32.1" height="24.3" rx="0.6" fill="#fae4d7" stroke="#2d2d2d" stroke-width="1"/>
<text class="thin" x="529.3" y="708.0" font-size="11.5" text-anchor="middle">65</text>
<rect x="573.6" y="693.6" width="31.9" height="24.3" rx="0.6" fill="#fae4d7" stroke="#2d2d2d" stroke-width="1"/>
<line x1="586.9" y1="705.6" x2="592.1" y2="705.6" stroke="#444" stroke-width="1"/>
<rect x="454.6" y="723.8" width="32.5" height="24.3" rx="0.6" fill="#00acec" stroke="#2d2d2d" stroke-width="1"/>
<text x="470.6" y="738.1" font-size="10.5" text-anchor="middle" fill="#111">+</text>
<rect x="513.3" y="723.8" width="32.1" height="24.3" rx="0.6" fill="#fae4d7" stroke="#2d2d2d" stroke-width="1"/>
<text class="thin" x="529.3" y="738.2" font-size="11.5" text-anchor="middle">62</text>
<rect x="573.6" y="723.8" width="31.9" height="24.3" rx="0.6" fill="#ff0000" stroke="#2d2d2d" stroke-width="1"/>
<text x="589.2" y="738.1" font-size="10.5" text-anchor="middle" fill="#111">+</text>
<rect x="454.6" y="755.6" width="32.5" height="24.3" rx="0.6" fill="#fae4d7" stroke="#2d2d2d" stroke-width="1"/>
<line x1="468.2" y1="767.8" x2="473.5" y2="767.8" stroke="#444" stroke-width="1"/>
<rect x="513.3" y="755.6" width="32.1" height="24.3" rx="0.6" fill="#fae4d7" stroke="#2d2d2d" stroke-width="1"/>
<text class="thin" x="529.3" y="770.2" font-size="11.5" text-anchor="middle">71</text>
<rect x="573.6" y="755.6" width="31.9" height="24.3" rx="0.6" fill="#fae4d7" stroke="#2d2d2d" stroke-width="1"/>
<polygon points="589.75,761.90 590.51,763.86 592.60,763.97 590.98,765.30 591.51,767.33 589.75,766.19 587.99,767.33 588.52,765.30 586.90,763.97 588.99,763.86" fill="#111"/>
<rect x="454.6" y="786.5" width="32.5" height="24.3" rx="0.6" fill="#fae4d7" stroke="#2d2d2d" stroke-width="1"/>
<line x1="468.2" y1="798.8" x2="473.5" y2="798.8" stroke="#444" stroke-width="1"/>
<rect x="513.3" y="786.5" width="32.1" height="24.3" rx="0.6" fill="#fae4d7" stroke="#2d2d2d" stroke-width="1"/>
<text class="thin" x="529.3" y="801.1" font-size="11.5" text-anchor="middle">70</text>
<rect x="573.6" y="786.5" width="31.9" height="24.3" rx="0.6" fill="#fae4d7" stroke="#2d2d2d" stroke-width="1"/>
<polygon points="589.75,792.85 590.51,794.81 592.60,794.92 590.98,796.25 591.51,798.28 589.75,797.14 587.99,798.28 588.52,796.25 586.90,794.92 588.99,794.81" fill="#111"/>
<rect x="454.6" y="820.6" width="32.5" height="24.3" rx="0.6" fill="#00acec" stroke="#2d2d2d" stroke-width="1"/>
<text x="470.6" y="835.0" font-size="10.5" text-anchor="middle" fill="#111">+</text>
<rect x="513.3" y="820.6" width="32.1" height="24.3" rx="0.6" fill="#fae4d7" stroke="#2d2d2d" stroke-width="1"/>
<text class="thin" x="529.3" y="835.1" font-size="11.5" text-anchor="middle">100</text>
<rect x="573.6" y="820.6" width="31.9" height="24.3" rx="0.6" fill="#ff0000" stroke="#2d2d2d" stroke-width="1"/>
<text x="589.2" y="835.0" font-size="10.5" text-anchor="middle" fill="#111">+</text>
<rect x="454.6" y="850.6" width="32.5" height="24.3" rx="0.6" fill="#fae4d7" stroke="#2d2d2d" stroke-width="1"/>
<line x1="468.2" y1="863.0" x2="473.5" y2="863.0" stroke="#444" stroke-width="1"/>
<rect x="513.3" y="850.6" width="32.1" height="24.3" rx="0.6" fill="#fae4d7" stroke="#2d2d2d" stroke-width="1"/>
<text class="thin" x="529.3" y="865.4" font-size="11.5" text-anchor="middle">74</text>
<rect x="573.6" y="850.6" width="31.9" height="24.3" rx="0.6" fill="#fae4d7" stroke="#2d2d2d" stroke-width="1"/>
<line x1="586.9" y1="863.0" x2="592.1" y2="863.0" stroke="#444" stroke-width="1"/>
<rect x="454.6" y="882.5" width="32.5" height="24.3" rx="0.6" fill="#fae4d7" stroke="#2d2d2d" stroke-width="1"/>
<line x1="468.2" y1="894.8" x2="473.5" y2="894.8" stroke="#444" stroke-width="1"/>
<rect x="513.3" y="882.5" width="32.1" height="24.3" rx="0.6" fill="#fae4d7" stroke="#2d2d2d" stroke-width="1"/>
<text class="thin" x="529.3" y="897.2" font-size="11.5" text-anchor="middle">74</text>
<rect x="573.6" y="882.5" width="31.9" height="24.3" rx="0.6" fill="#fae4d7" stroke="#2d2d2d" stroke-width="1"/>
<polygon points="589.75,888.90 590.51,890.86 592.60,890.97 590.98,892.30 591.51,894.33 589.75,893.19 587.99,894.33 588.52,892.30 586.90,890.97 588.99,890.86" fill="#111"/>
<rect x="454.6" y="912.2" width="32.5" height="24.3" rx="0.6" fill="#fae4d7" stroke="#2d2d2d" stroke-width="1"/>
<line x1="468.2" y1="924.5" x2="473.5" y2="924.5" stroke="#444" stroke-width="1"/>
<rect x="513.3" y="912.2" width="32.1" height="24.3" rx="0.6" fill="#fae4d7" stroke="#2d2d2d" stroke-width="1"/>
<text class="thin" x="529.3" y="926.9" font-size="11.5" text-anchor="middle">58</text>
<rect x="573.6" y="912.2" width="31.9" height="24.3" rx="0.6" fill="#fae4d7" stroke="#2d2d2d" stroke-width="1"/>
<line x1="586.9" y1="924.5" x2="592.1" y2="924.5" stroke="#444" stroke-width="1"/>
<rect x="453.70000000000005" y="945.1" width="32.5" height="24.3" rx="0.6" fill="#00acec" stroke="#2d2d2d" stroke-width="1"/>
<text x="469.7" y="959.6" font-size="10.5" text-anchor="middle" fill="#111">+</text>
<rect x="512.4" y="945.1" width="32.1" height="24.3" rx="0.6" fill="#fae4d7" stroke="#2d2d2d" stroke-width="1"/>
<text class="thin" x="528.5" y="959.7" font-size="11.5" text-anchor="middle">54</text>
<rect x="573.6" y="945.1" width="31.9" height="24.3" rx="0.6" fill="#ff0000" stroke="#2d2d2d" stroke-width="1"/>
<text x="589.2" y="959.6" font-size="10.5" text-anchor="middle" fill="#111">+</text>
<text font-size="11" transform="translate(466.5,636.7) rotate(-45)" textLength="67" lengthAdjust="spacingAndGlyphs">Cardenolide</text>
<text font-size="11" transform="translate(477.1,646.3) rotate(-45)" textLength="74" lengthAdjust="spacingAndGlyphs">accumulation</text>
<text font-size="11" transform="translate(531.8,646.1) rotate(-45)" textLength="62" lengthAdjust="spacingAndGlyphs">Identity (%)</text>
<text font-size="11" transform="translate(579.0,645.7) rotate(-45)" textLength="133" lengthAdjust="spacingAndGlyphs">Pregnenolone formation</text>
<text font-size="11" transform="translate(601.5,644.2) rotate(-45)" textLength="98" lengthAdjust="spacingAndGlyphs">in <tspan font-style="italic">N. benthamiana</tspan></text>
</svg></body></html>
